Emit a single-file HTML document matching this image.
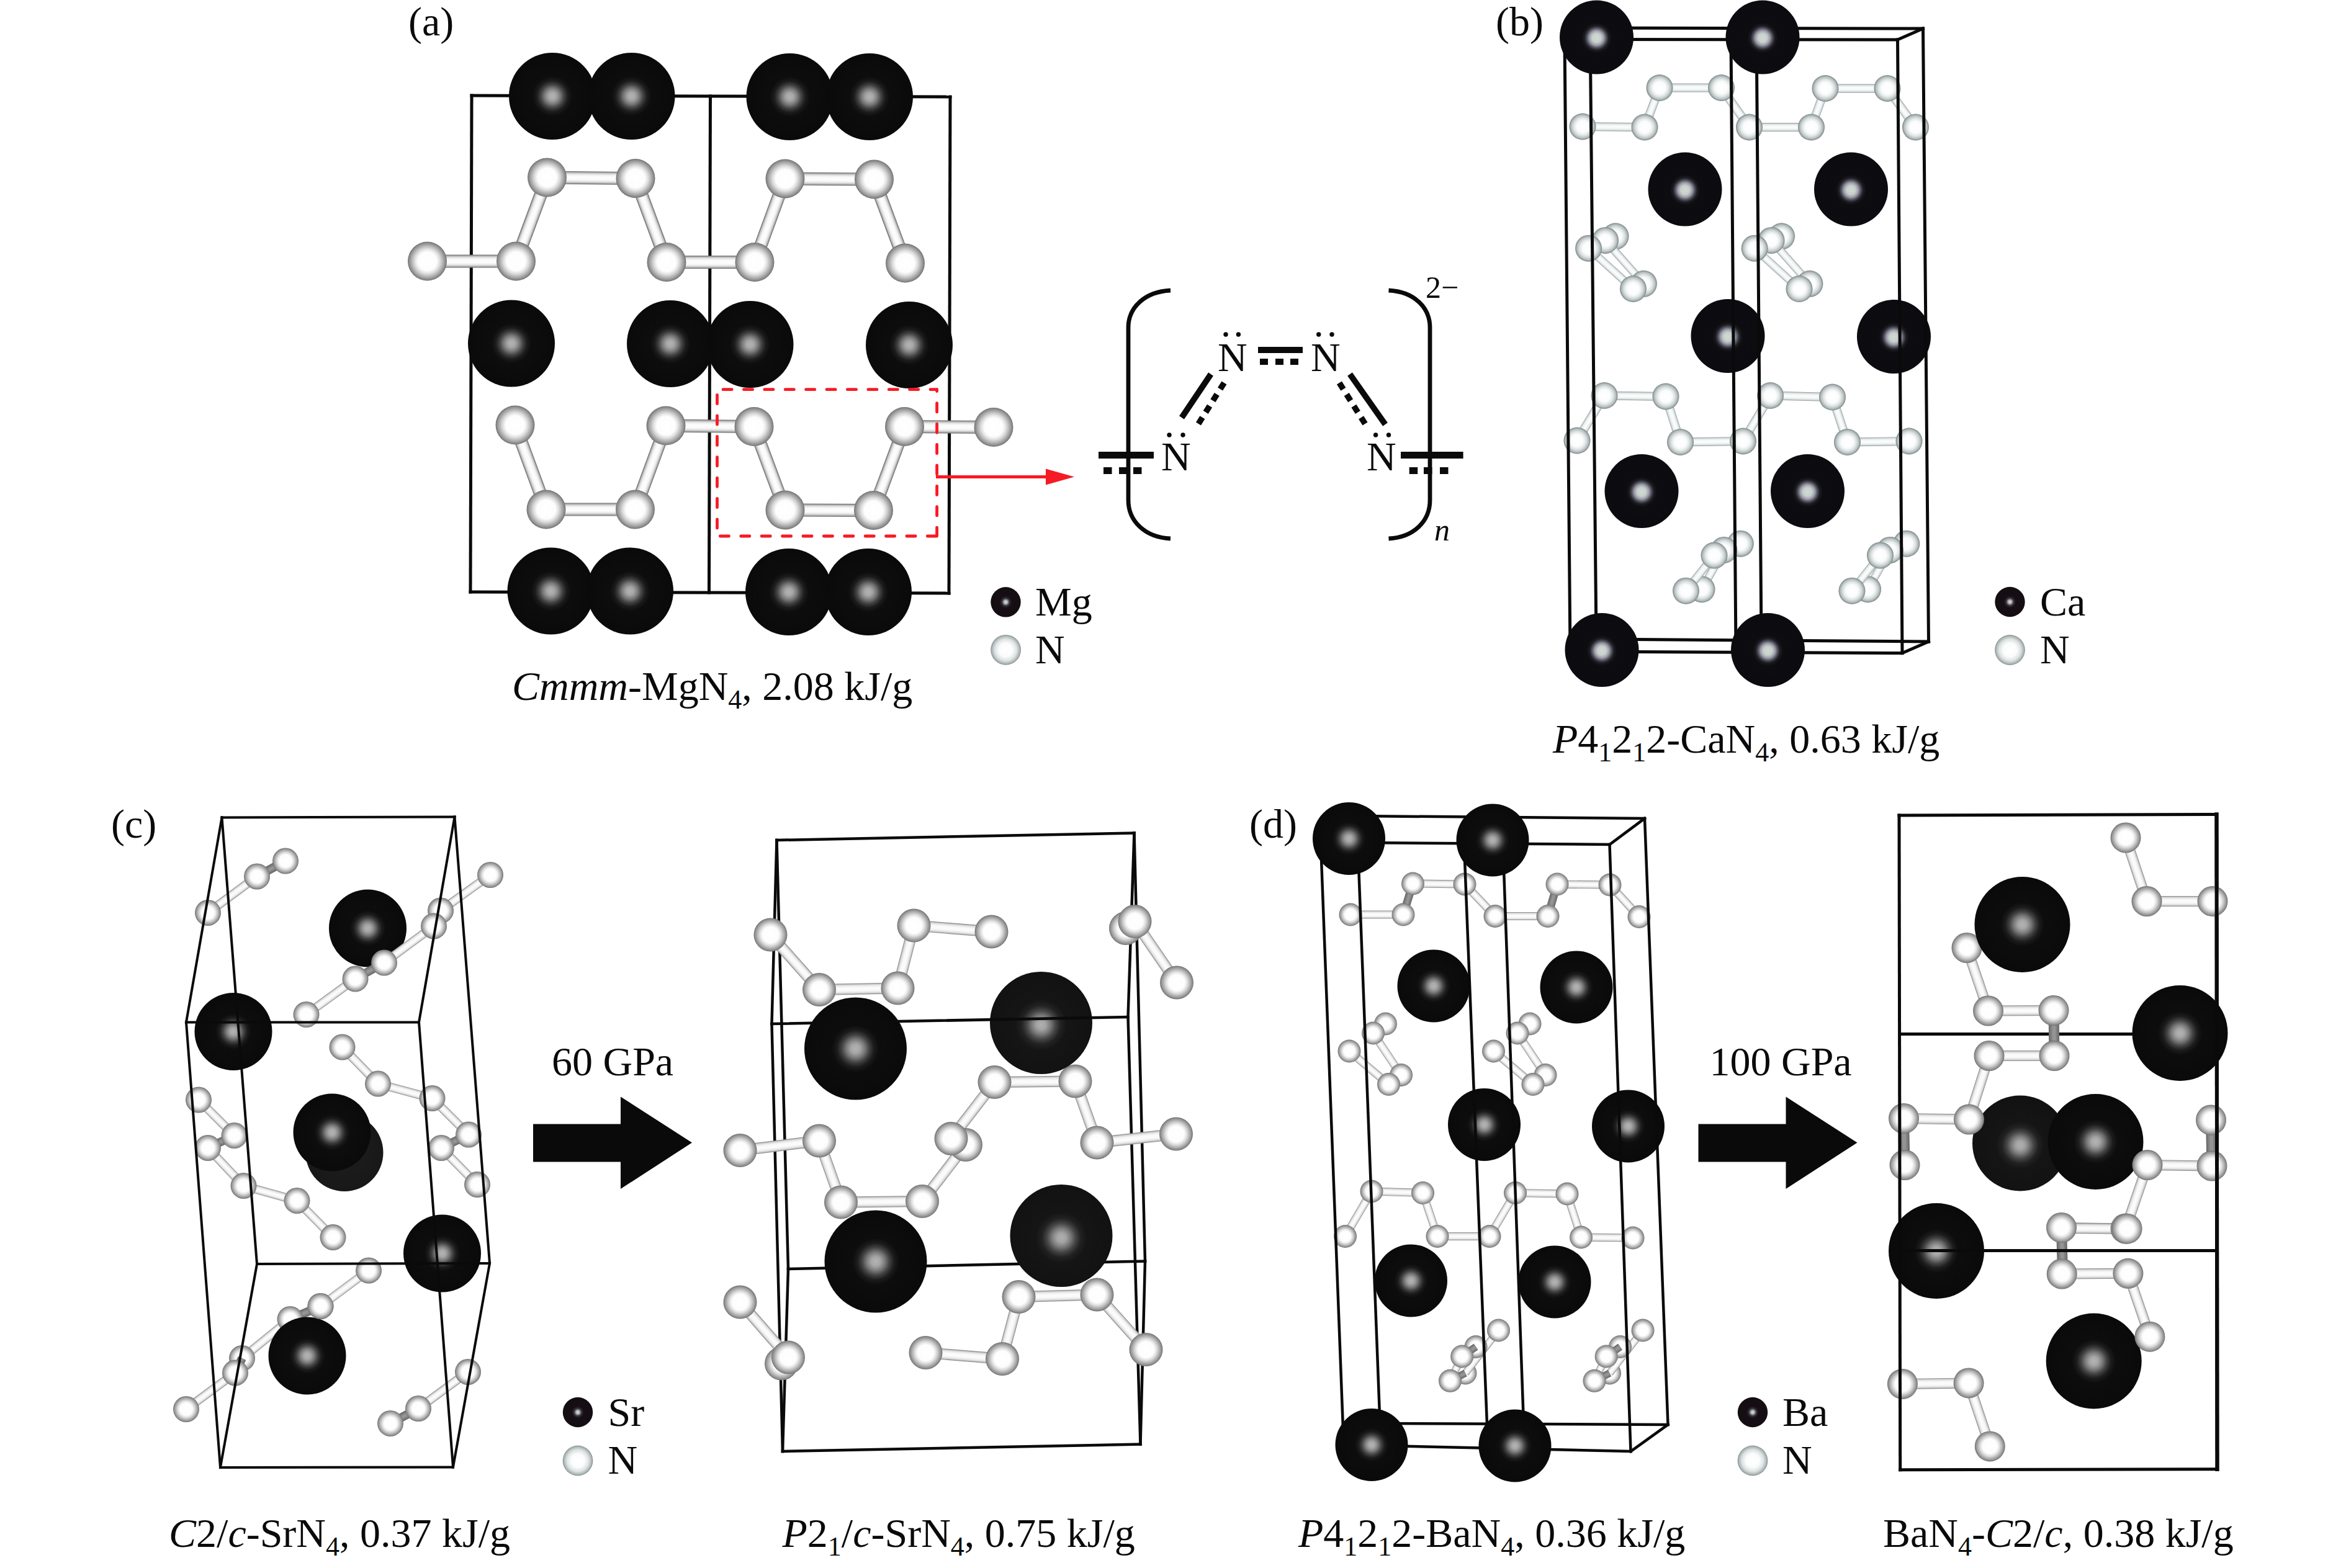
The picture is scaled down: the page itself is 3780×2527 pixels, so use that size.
<!DOCTYPE html>
<html><head><meta charset="utf-8"><style>
html,body{margin:0;padding:0;background:#fff;}
body{width:3780px;height:2527px;overflow:hidden;}
svg{display:block;}
text{font-family:"Liberation Serif", serif;fill:#0a0a0a;}
</style></head><body>
<svg width="3780" height="2527" viewBox="0 0 3780 2527">
<defs>
<radialGradient id="gM" cx="0.5" cy="0.5" r="0.5">
<stop offset="0" stop-color="#b4b4b4"/>
<stop offset="0.09" stop-color="#a6a6a6"/>
<stop offset="0.18" stop-color="#7a7a7a"/>
<stop offset="0.27" stop-color="#424242"/>
<stop offset="0.36" stop-color="#1c1c1c"/>
<stop offset="0.46" stop-color="#0d0d0d"/>
<stop offset="1" stop-color="#0a0a0a"/>
</radialGradient>
<radialGradient id="gMb" cx="0.5" cy="0.51" r="0.5">
<stop offset="0" stop-color="#d2dad6"/>
<stop offset="0.12" stop-color="#c8d0cc"/>
<stop offset="0.2" stop-color="#9a9aa8"/>
<stop offset="0.265" stop-color="#52525e"/>
<stop offset="0.33" stop-color="#1c1c22"/>
<stop offset="0.41" stop-color="#0d0d11"/>
<stop offset="1" stop-color="#0c0c10"/>
</radialGradient>
<radialGradient id="gMg" cx="0.5" cy="0.52" r="0.5">
<stop offset="0" stop-color="#b0b0b0"/>
<stop offset="0.09" stop-color="#a4a4a4"/>
<stop offset="0.18" stop-color="#7c7c7c"/>
<stop offset="0.28" stop-color="#464646"/>
<stop offset="0.38" stop-color="#222222"/>
<stop offset="0.5" stop-color="#151515"/>
<stop offset="1" stop-color="#121212"/>
</radialGradient>
<radialGradient id="gMd" cx="0.5" cy="0.5" r="0.5">
<stop offset="0" stop-color="#1e1e1e"/>
<stop offset="1" stop-color="#181818"/>
</radialGradient>
<radialGradient id="gL" cx="0.5" cy="0.5" r="0.5">
<stop offset="0" stop-color="#d0dada"/>
<stop offset="0.1" stop-color="#b8c2c4"/>
<stop offset="0.25" stop-color="#3a3038"/>
<stop offset="0.4" stop-color="#150e13"/>
<stop offset="1" stop-color="#140d12"/>
</radialGradient>
<radialGradient id="gN" cx="0.5" cy="0.5" r="0.5">
<stop offset="0" stop-color="#ffffff"/>
<stop offset="0.48" stop-color="#fdfdfd"/>
<stop offset="0.64" stop-color="#dedede"/>
<stop offset="0.8" stop-color="#b2b2b2"/>
<stop offset="0.93" stop-color="#8c8c8c"/>
<stop offset="1" stop-color="#707070"/>
</radialGradient>
<radialGradient id="gNb" cx="0.5" cy="0.5" r="0.5">
<stop offset="0" stop-color="#ffffff"/>
<stop offset="0.45" stop-color="#fbfcfc"/>
<stop offset="0.65" stop-color="#e2e6e6"/>
<stop offset="0.85" stop-color="#b8c0c0"/>
<stop offset="0.96" stop-color="#8e9898"/>
<stop offset="1" stop-color="#768080"/>
</radialGradient>
<radialGradient id="gNL" cx="0.5" cy="0.5" r="0.5">
<stop offset="0" stop-color="#ffffff"/>
<stop offset="0.45" stop-color="#fbfcfc"/>
<stop offset="0.72" stop-color="#dde2e2"/>
<stop offset="0.9" stop-color="#b0b8b8"/>
<stop offset="1" stop-color="#8a9494"/>
</radialGradient>
</defs>

<text x="658" y="57" font-size="66" text-anchor="start" >(a)</text>
<text x="2410" y="57" font-size="66" text-anchor="start" >(b)</text>
<text x="179" y="1349.5" font-size="66" text-anchor="start" >(c)</text>
<text x="2013" y="1349.5" font-size="66" text-anchor="start" >(d)</text>
<line x1="760" y1="154" x2="1531" y2="156" stroke="#0a0a0a" stroke-width="5" stroke-linecap="square"/>
<line x1="758" y1="954" x2="1529" y2="956" stroke="#0a0a0a" stroke-width="5" stroke-linecap="square"/>
<line x1="760" y1="154" x2="758" y2="954" stroke="#0a0a0a" stroke-width="5" stroke-linecap="square"/>
<line x1="1144.5" y1="155" x2="1142.5" y2="955" stroke="#0a0a0a" stroke-width="5" stroke-linecap="square"/>
<line x1="1531" y1="156" x2="1529" y2="956" stroke="#0a0a0a" stroke-width="5" stroke-linecap="square"/>
<line x1="688.5" y1="421" x2="831.5" y2="421" stroke="#707070" stroke-width="21.00"/>
<line x1="688.5" y1="421" x2="831.5" y2="421" stroke="#a0a0a0" stroke-width="18.90"/>
<line x1="688.5" y1="421" x2="831.5" y2="421" stroke="#bebebe" stroke-width="16.80"/>
<line x1="688.5" y1="421" x2="831.5" y2="421" stroke="#d5d5d5" stroke-width="14.70"/>
<line x1="688.5" y1="421" x2="831.5" y2="421" stroke="#e4e4e4" stroke-width="12.60"/>
<line x1="688.5" y1="421" x2="831.5" y2="421" stroke="#efefef" stroke-width="10.50"/>
<line x1="688.5" y1="421" x2="831.5" y2="421" stroke="#f4f4f4" stroke-width="8.40"/>
<line x1="688.5" y1="421" x2="831.5" y2="421" stroke="#fafafa" stroke-width="6.30"/>
<line x1="688.5" y1="421" x2="831.5" y2="421" stroke="#fcfcfc" stroke-width="4.20"/>
<line x1="831.5" y1="421" x2="881.5" y2="286" stroke="#707070" stroke-width="21.00"/>
<line x1="831.5" y1="421" x2="881.5" y2="286" stroke="#a0a0a0" stroke-width="18.90"/>
<line x1="831.5" y1="421" x2="881.5" y2="286" stroke="#bebebe" stroke-width="16.80"/>
<line x1="831.5" y1="421" x2="881.5" y2="286" stroke="#d5d5d5" stroke-width="14.70"/>
<line x1="831.5" y1="421" x2="881.5" y2="286" stroke="#e4e4e4" stroke-width="12.60"/>
<line x1="831.5" y1="421" x2="881.5" y2="286" stroke="#efefef" stroke-width="10.50"/>
<line x1="831.5" y1="421" x2="881.5" y2="286" stroke="#f4f4f4" stroke-width="8.40"/>
<line x1="831.5" y1="421" x2="881.5" y2="286" stroke="#fafafa" stroke-width="6.30"/>
<line x1="831.5" y1="421" x2="881.5" y2="286" stroke="#fcfcfc" stroke-width="4.20"/>
<line x1="881.5" y1="286" x2="1024" y2="287.5" stroke="#707070" stroke-width="21.00"/>
<line x1="881.5" y1="286" x2="1024" y2="287.5" stroke="#a0a0a0" stroke-width="18.90"/>
<line x1="881.5" y1="286" x2="1024" y2="287.5" stroke="#bebebe" stroke-width="16.80"/>
<line x1="881.5" y1="286" x2="1024" y2="287.5" stroke="#d5d5d5" stroke-width="14.70"/>
<line x1="881.5" y1="286" x2="1024" y2="287.5" stroke="#e4e4e4" stroke-width="12.60"/>
<line x1="881.5" y1="286" x2="1024" y2="287.5" stroke="#efefef" stroke-width="10.50"/>
<line x1="881.5" y1="286" x2="1024" y2="287.5" stroke="#f4f4f4" stroke-width="8.40"/>
<line x1="881.5" y1="286" x2="1024" y2="287.5" stroke="#fafafa" stroke-width="6.30"/>
<line x1="881.5" y1="286" x2="1024" y2="287.5" stroke="#fcfcfc" stroke-width="4.20"/>
<line x1="1024" y1="287.5" x2="1074" y2="422.5" stroke="#707070" stroke-width="21.00"/>
<line x1="1024" y1="287.5" x2="1074" y2="422.5" stroke="#a0a0a0" stroke-width="18.90"/>
<line x1="1024" y1="287.5" x2="1074" y2="422.5" stroke="#bebebe" stroke-width="16.80"/>
<line x1="1024" y1="287.5" x2="1074" y2="422.5" stroke="#d5d5d5" stroke-width="14.70"/>
<line x1="1024" y1="287.5" x2="1074" y2="422.5" stroke="#e4e4e4" stroke-width="12.60"/>
<line x1="1024" y1="287.5" x2="1074" y2="422.5" stroke="#efefef" stroke-width="10.50"/>
<line x1="1024" y1="287.5" x2="1074" y2="422.5" stroke="#f4f4f4" stroke-width="8.40"/>
<line x1="1024" y1="287.5" x2="1074" y2="422.5" stroke="#fafafa" stroke-width="6.30"/>
<line x1="1024" y1="287.5" x2="1074" y2="422.5" stroke="#fcfcfc" stroke-width="4.20"/>
<line x1="1074" y1="422.5" x2="1216" y2="422.5" stroke="#707070" stroke-width="21.00"/>
<line x1="1074" y1="422.5" x2="1216" y2="422.5" stroke="#a0a0a0" stroke-width="18.90"/>
<line x1="1074" y1="422.5" x2="1216" y2="422.5" stroke="#bebebe" stroke-width="16.80"/>
<line x1="1074" y1="422.5" x2="1216" y2="422.5" stroke="#d5d5d5" stroke-width="14.70"/>
<line x1="1074" y1="422.5" x2="1216" y2="422.5" stroke="#e4e4e4" stroke-width="12.60"/>
<line x1="1074" y1="422.5" x2="1216" y2="422.5" stroke="#efefef" stroke-width="10.50"/>
<line x1="1074" y1="422.5" x2="1216" y2="422.5" stroke="#f4f4f4" stroke-width="8.40"/>
<line x1="1074" y1="422.5" x2="1216" y2="422.5" stroke="#fafafa" stroke-width="6.30"/>
<line x1="1074" y1="422.5" x2="1216" y2="422.5" stroke="#fcfcfc" stroke-width="4.20"/>
<line x1="1216" y1="422.5" x2="1265" y2="288" stroke="#707070" stroke-width="21.00"/>
<line x1="1216" y1="422.5" x2="1265" y2="288" stroke="#a0a0a0" stroke-width="18.90"/>
<line x1="1216" y1="422.5" x2="1265" y2="288" stroke="#bebebe" stroke-width="16.80"/>
<line x1="1216" y1="422.5" x2="1265" y2="288" stroke="#d5d5d5" stroke-width="14.70"/>
<line x1="1216" y1="422.5" x2="1265" y2="288" stroke="#e4e4e4" stroke-width="12.60"/>
<line x1="1216" y1="422.5" x2="1265" y2="288" stroke="#efefef" stroke-width="10.50"/>
<line x1="1216" y1="422.5" x2="1265" y2="288" stroke="#f4f4f4" stroke-width="8.40"/>
<line x1="1216" y1="422.5" x2="1265" y2="288" stroke="#fafafa" stroke-width="6.30"/>
<line x1="1216" y1="422.5" x2="1265" y2="288" stroke="#fcfcfc" stroke-width="4.20"/>
<line x1="1265" y1="288" x2="1408.5" y2="289" stroke="#707070" stroke-width="21.00"/>
<line x1="1265" y1="288" x2="1408.5" y2="289" stroke="#a0a0a0" stroke-width="18.90"/>
<line x1="1265" y1="288" x2="1408.5" y2="289" stroke="#bebebe" stroke-width="16.80"/>
<line x1="1265" y1="288" x2="1408.5" y2="289" stroke="#d5d5d5" stroke-width="14.70"/>
<line x1="1265" y1="288" x2="1408.5" y2="289" stroke="#e4e4e4" stroke-width="12.60"/>
<line x1="1265" y1="288" x2="1408.5" y2="289" stroke="#efefef" stroke-width="10.50"/>
<line x1="1265" y1="288" x2="1408.5" y2="289" stroke="#f4f4f4" stroke-width="8.40"/>
<line x1="1265" y1="288" x2="1408.5" y2="289" stroke="#fafafa" stroke-width="6.30"/>
<line x1="1265" y1="288" x2="1408.5" y2="289" stroke="#fcfcfc" stroke-width="4.20"/>
<line x1="1408.5" y1="289" x2="1458.5" y2="424" stroke="#707070" stroke-width="21.00"/>
<line x1="1408.5" y1="289" x2="1458.5" y2="424" stroke="#a0a0a0" stroke-width="18.90"/>
<line x1="1408.5" y1="289" x2="1458.5" y2="424" stroke="#bebebe" stroke-width="16.80"/>
<line x1="1408.5" y1="289" x2="1458.5" y2="424" stroke="#d5d5d5" stroke-width="14.70"/>
<line x1="1408.5" y1="289" x2="1458.5" y2="424" stroke="#e4e4e4" stroke-width="12.60"/>
<line x1="1408.5" y1="289" x2="1458.5" y2="424" stroke="#efefef" stroke-width="10.50"/>
<line x1="1408.5" y1="289" x2="1458.5" y2="424" stroke="#f4f4f4" stroke-width="8.40"/>
<line x1="1408.5" y1="289" x2="1458.5" y2="424" stroke="#fafafa" stroke-width="6.30"/>
<line x1="1408.5" y1="289" x2="1458.5" y2="424" stroke="#fcfcfc" stroke-width="4.20"/>
<line x1="830" y1="685" x2="880" y2="821" stroke="#707070" stroke-width="21.00"/>
<line x1="830" y1="685" x2="880" y2="821" stroke="#a0a0a0" stroke-width="18.90"/>
<line x1="830" y1="685" x2="880" y2="821" stroke="#bebebe" stroke-width="16.80"/>
<line x1="830" y1="685" x2="880" y2="821" stroke="#d5d5d5" stroke-width="14.70"/>
<line x1="830" y1="685" x2="880" y2="821" stroke="#e4e4e4" stroke-width="12.60"/>
<line x1="830" y1="685" x2="880" y2="821" stroke="#efefef" stroke-width="10.50"/>
<line x1="830" y1="685" x2="880" y2="821" stroke="#f4f4f4" stroke-width="8.40"/>
<line x1="830" y1="685" x2="880" y2="821" stroke="#fafafa" stroke-width="6.30"/>
<line x1="830" y1="685" x2="880" y2="821" stroke="#fcfcfc" stroke-width="4.20"/>
<line x1="880" y1="821" x2="1023.5" y2="821" stroke="#707070" stroke-width="21.00"/>
<line x1="880" y1="821" x2="1023.5" y2="821" stroke="#a0a0a0" stroke-width="18.90"/>
<line x1="880" y1="821" x2="1023.5" y2="821" stroke="#bebebe" stroke-width="16.80"/>
<line x1="880" y1="821" x2="1023.5" y2="821" stroke="#d5d5d5" stroke-width="14.70"/>
<line x1="880" y1="821" x2="1023.5" y2="821" stroke="#e4e4e4" stroke-width="12.60"/>
<line x1="880" y1="821" x2="1023.5" y2="821" stroke="#efefef" stroke-width="10.50"/>
<line x1="880" y1="821" x2="1023.5" y2="821" stroke="#f4f4f4" stroke-width="8.40"/>
<line x1="880" y1="821" x2="1023.5" y2="821" stroke="#fafafa" stroke-width="6.30"/>
<line x1="880" y1="821" x2="1023.5" y2="821" stroke="#fcfcfc" stroke-width="4.20"/>
<line x1="1023.5" y1="821" x2="1073" y2="686" stroke="#707070" stroke-width="21.00"/>
<line x1="1023.5" y1="821" x2="1073" y2="686" stroke="#a0a0a0" stroke-width="18.90"/>
<line x1="1023.5" y1="821" x2="1073" y2="686" stroke="#bebebe" stroke-width="16.80"/>
<line x1="1023.5" y1="821" x2="1073" y2="686" stroke="#d5d5d5" stroke-width="14.70"/>
<line x1="1023.5" y1="821" x2="1073" y2="686" stroke="#e4e4e4" stroke-width="12.60"/>
<line x1="1023.5" y1="821" x2="1073" y2="686" stroke="#efefef" stroke-width="10.50"/>
<line x1="1023.5" y1="821" x2="1073" y2="686" stroke="#f4f4f4" stroke-width="8.40"/>
<line x1="1023.5" y1="821" x2="1073" y2="686" stroke="#fafafa" stroke-width="6.30"/>
<line x1="1023.5" y1="821" x2="1073" y2="686" stroke="#fcfcfc" stroke-width="4.20"/>
<line x1="1073" y1="686" x2="1215" y2="687.5" stroke="#707070" stroke-width="21.00"/>
<line x1="1073" y1="686" x2="1215" y2="687.5" stroke="#a0a0a0" stroke-width="18.90"/>
<line x1="1073" y1="686" x2="1215" y2="687.5" stroke="#bebebe" stroke-width="16.80"/>
<line x1="1073" y1="686" x2="1215" y2="687.5" stroke="#d5d5d5" stroke-width="14.70"/>
<line x1="1073" y1="686" x2="1215" y2="687.5" stroke="#e4e4e4" stroke-width="12.60"/>
<line x1="1073" y1="686" x2="1215" y2="687.5" stroke="#efefef" stroke-width="10.50"/>
<line x1="1073" y1="686" x2="1215" y2="687.5" stroke="#f4f4f4" stroke-width="8.40"/>
<line x1="1073" y1="686" x2="1215" y2="687.5" stroke="#fafafa" stroke-width="6.30"/>
<line x1="1073" y1="686" x2="1215" y2="687.5" stroke="#fcfcfc" stroke-width="4.20"/>
<line x1="1215" y1="687.5" x2="1265" y2="822" stroke="#707070" stroke-width="21.00"/>
<line x1="1215" y1="687.5" x2="1265" y2="822" stroke="#a0a0a0" stroke-width="18.90"/>
<line x1="1215" y1="687.5" x2="1265" y2="822" stroke="#bebebe" stroke-width="16.80"/>
<line x1="1215" y1="687.5" x2="1265" y2="822" stroke="#d5d5d5" stroke-width="14.70"/>
<line x1="1215" y1="687.5" x2="1265" y2="822" stroke="#e4e4e4" stroke-width="12.60"/>
<line x1="1215" y1="687.5" x2="1265" y2="822" stroke="#efefef" stroke-width="10.50"/>
<line x1="1215" y1="687.5" x2="1265" y2="822" stroke="#f4f4f4" stroke-width="8.40"/>
<line x1="1215" y1="687.5" x2="1265" y2="822" stroke="#fafafa" stroke-width="6.30"/>
<line x1="1215" y1="687.5" x2="1265" y2="822" stroke="#fcfcfc" stroke-width="4.20"/>
<line x1="1265" y1="822" x2="1407.5" y2="822.5" stroke="#707070" stroke-width="21.00"/>
<line x1="1265" y1="822" x2="1407.5" y2="822.5" stroke="#a0a0a0" stroke-width="18.90"/>
<line x1="1265" y1="822" x2="1407.5" y2="822.5" stroke="#bebebe" stroke-width="16.80"/>
<line x1="1265" y1="822" x2="1407.5" y2="822.5" stroke="#d5d5d5" stroke-width="14.70"/>
<line x1="1265" y1="822" x2="1407.5" y2="822.5" stroke="#e4e4e4" stroke-width="12.60"/>
<line x1="1265" y1="822" x2="1407.5" y2="822.5" stroke="#efefef" stroke-width="10.50"/>
<line x1="1265" y1="822" x2="1407.5" y2="822.5" stroke="#f4f4f4" stroke-width="8.40"/>
<line x1="1265" y1="822" x2="1407.5" y2="822.5" stroke="#fafafa" stroke-width="6.30"/>
<line x1="1265" y1="822" x2="1407.5" y2="822.5" stroke="#fcfcfc" stroke-width="4.20"/>
<line x1="1407.5" y1="822.5" x2="1457.5" y2="687.5" stroke="#707070" stroke-width="21.00"/>
<line x1="1407.5" y1="822.5" x2="1457.5" y2="687.5" stroke="#a0a0a0" stroke-width="18.90"/>
<line x1="1407.5" y1="822.5" x2="1457.5" y2="687.5" stroke="#bebebe" stroke-width="16.80"/>
<line x1="1407.5" y1="822.5" x2="1457.5" y2="687.5" stroke="#d5d5d5" stroke-width="14.70"/>
<line x1="1407.5" y1="822.5" x2="1457.5" y2="687.5" stroke="#e4e4e4" stroke-width="12.60"/>
<line x1="1407.5" y1="822.5" x2="1457.5" y2="687.5" stroke="#efefef" stroke-width="10.50"/>
<line x1="1407.5" y1="822.5" x2="1457.5" y2="687.5" stroke="#f4f4f4" stroke-width="8.40"/>
<line x1="1407.5" y1="822.5" x2="1457.5" y2="687.5" stroke="#fafafa" stroke-width="6.30"/>
<line x1="1407.5" y1="822.5" x2="1457.5" y2="687.5" stroke="#fcfcfc" stroke-width="4.20"/>
<line x1="1457.5" y1="687.5" x2="1601" y2="688.5" stroke="#707070" stroke-width="21.00"/>
<line x1="1457.5" y1="687.5" x2="1601" y2="688.5" stroke="#a0a0a0" stroke-width="18.90"/>
<line x1="1457.5" y1="687.5" x2="1601" y2="688.5" stroke="#bebebe" stroke-width="16.80"/>
<line x1="1457.5" y1="687.5" x2="1601" y2="688.5" stroke="#d5d5d5" stroke-width="14.70"/>
<line x1="1457.5" y1="687.5" x2="1601" y2="688.5" stroke="#e4e4e4" stroke-width="12.60"/>
<line x1="1457.5" y1="687.5" x2="1601" y2="688.5" stroke="#efefef" stroke-width="10.50"/>
<line x1="1457.5" y1="687.5" x2="1601" y2="688.5" stroke="#f4f4f4" stroke-width="8.40"/>
<line x1="1457.5" y1="687.5" x2="1601" y2="688.5" stroke="#fafafa" stroke-width="6.30"/>
<line x1="1457.5" y1="687.5" x2="1601" y2="688.5" stroke="#fcfcfc" stroke-width="4.20"/>
<circle cx="881.5" cy="286" r="31.5" fill="url(#gN)"/>
<circle cx="1024" cy="287.5" r="31.5" fill="url(#gN)"/>
<circle cx="1265" cy="288" r="31.5" fill="url(#gN)"/>
<circle cx="1408.5" cy="289" r="31.5" fill="url(#gN)"/>
<circle cx="688.5" cy="421" r="31.5" fill="url(#gN)"/>
<circle cx="831.5" cy="421" r="31.5" fill="url(#gN)"/>
<circle cx="1074" cy="422.5" r="31.5" fill="url(#gN)"/>
<circle cx="1216" cy="422.5" r="31.5" fill="url(#gN)"/>
<circle cx="1458.5" cy="424" r="31.5" fill="url(#gN)"/>
<circle cx="830" cy="685" r="31.5" fill="url(#gN)"/>
<circle cx="1073" cy="686" r="31.5" fill="url(#gN)"/>
<circle cx="1215" cy="687.5" r="31.5" fill="url(#gN)"/>
<circle cx="1457.5" cy="687.5" r="31.5" fill="url(#gN)"/>
<circle cx="1601" cy="688.5" r="31.5" fill="url(#gN)"/>
<circle cx="880" cy="821" r="31.5" fill="url(#gN)"/>
<circle cx="1023.5" cy="821" r="31.5" fill="url(#gN)"/>
<circle cx="1265" cy="822" r="31.5" fill="url(#gN)"/>
<circle cx="1407.5" cy="822.5" r="31.5" fill="url(#gN)"/>
<circle cx="890" cy="155" r="70" fill="url(#gM)"/>
<circle cx="1017.5" cy="155" r="70" fill="url(#gM)"/>
<circle cx="1272.5" cy="156" r="70" fill="url(#gM)"/>
<circle cx="1401" cy="156" r="70" fill="url(#gM)"/>
<circle cx="824" cy="553.5" r="70" fill="url(#gM)"/>
<circle cx="1080" cy="554" r="70" fill="url(#gM)"/>
<circle cx="1208.5" cy="555" r="70" fill="url(#gM)"/>
<circle cx="1465" cy="556" r="70" fill="url(#gM)"/>
<circle cx="887.5" cy="952.5" r="70" fill="url(#gM)"/>
<circle cx="1015" cy="952.5" r="70" fill="url(#gM)"/>
<circle cx="1271" cy="954" r="70" fill="url(#gM)"/>
<circle cx="1399" cy="954" r="70" fill="url(#gM)"/>
<path d="M1155.5,627.7 H1509.6" stroke="#f81a24" stroke-width="4.8" stroke-dasharray="14.2 19.2" stroke-linecap="round" fill="none" stroke-dashoffset="-9.5"/>
<path d="M1509.6,627.7 V864" stroke="#f81a24" stroke-width="4.8" stroke-dasharray="14.2 19.2" stroke-linecap="round" fill="none" stroke-dashoffset="11.4"/>
<path d="M1509.6,864 H1155.5" stroke="#f81a24" stroke-width="4.8" stroke-dasharray="14.2 19.2" stroke-linecap="round" fill="none" stroke-dashoffset="-1.1"/>
<path d="M1155.5,627.7 V864" stroke="#f81a24" stroke-width="4.8" stroke-dasharray="14.2 19.2" stroke-linecap="round" fill="none" stroke-dashoffset="-8.8"/>
<line x1="1508" y1="768.5" x2="1692" y2="768.5" stroke="#f81a24" stroke-width="4.8"/>
<path d="M1685,755.5 L1731,768.5 L1685,781.5 Z" fill="#f51a24"/>
<circle cx="1620.5" cy="970.3" r="24.2" fill="url(#gL)"/>
<circle cx="1620.6" cy="1047.3" r="24.4" fill="url(#gNL)"/>
<text x="1668" y="991.7" font-size="66" text-anchor="start" >Mg</text>
<text x="1668" y="1069.3" font-size="66" text-anchor="start" >N</text>
<text x="825" y="1127.5" font-size="66" text-anchor="start" ><tspan font-style="italic">Cmmm</tspan>-MgN<tspan font-size="44" dy="14">4</tspan><tspan dy="-14">, 2.08 kJ/g</tspan></text>
<path d="M1886,468 C1845,470 1818,495 1818,528 L1818,806 C1818,840 1845,866 1886,868" fill="none" stroke="#0a0a0a" stroke-width="6.8"/>
<path d="M2237.5,468 C2278,470 2304,495 2304,528 L2304,806 C2304,840 2278,866 2237.5,868" fill="none" stroke="#0a0a0a" stroke-width="6.8"/>
<text x="1962" y="598" font-size="66" text-anchor="start" >N</text>
<text x="2112" y="598" font-size="66" text-anchor="start" >N</text>
<text x="1871" y="758" font-size="66" text-anchor="start" >N</text>
<text x="2202" y="758" font-size="66" text-anchor="start" >N</text>
<circle cx="1975" cy="539" r="3.7" fill="#0a0a0a"/>
<circle cx="1995.4" cy="539" r="3.7" fill="#0a0a0a"/>
<circle cx="2124.7" cy="539" r="3.7" fill="#0a0a0a"/>
<circle cx="2146" cy="539" r="3.7" fill="#0a0a0a"/>
<circle cx="1884" cy="701" r="3.7" fill="#0a0a0a"/>
<circle cx="1906" cy="701" r="3.7" fill="#0a0a0a"/>
<circle cx="2216.6" cy="701" r="3.7" fill="#0a0a0a"/>
<circle cx="2237.5" cy="701" r="3.7" fill="#0a0a0a"/>
<rect x="2027" y="559" width="72" height="10" fill="#0a0a0a"/>
<rect x="2030" y="578" width="13" height="10" fill="#0a0a0a"/>
<rect x="2055" y="578" width="13" height="10" fill="#0a0a0a"/>
<rect x="2079" y="578" width="13" height="10" fill="#0a0a0a"/>
<rect x="1770" y="728" width="89" height="11" fill="#0a0a0a"/>
<rect x="1778" y="753" width="13.5" height="11" fill="#0a0a0a"/>
<rect x="1803" y="753" width="13.5" height="11" fill="#0a0a0a"/>
<rect x="1826" y="753" width="13.5" height="11" fill="#0a0a0a"/>
<rect x="2257" y="728" width="100.6" height="11" fill="#0a0a0a"/>
<rect x="2270.7" y="753" width="13.5" height="11" fill="#0a0a0a"/>
<rect x="2294" y="753" width="13.5" height="11" fill="#0a0a0a"/>
<rect x="2320" y="753" width="13.5" height="11" fill="#0a0a0a"/>
<line x1="1904" y1="673" x2="1951" y2="603" stroke="#0a0a0a" stroke-width="9.5"/>
<line x1="1931" y1="683" x2="1973" y2="616" stroke="#0a0a0a" stroke-width="9.5" stroke-dasharray="12 10"/>
<line x1="2175" y1="603" x2="2232" y2="684" stroke="#0a0a0a" stroke-width="9.5"/>
<line x1="2158" y1="617" x2="2202" y2="687" stroke="#0a0a0a" stroke-width="9.5" stroke-dasharray="12 10"/>
<text x="2297" y="479.5" font-size="50" text-anchor="start" >2&#8722;</text>
<text x="2311" y="871" font-size="50" text-anchor="start" ><tspan font-style="italic">n</tspan></text>
<line x1="2550" y1="204" x2="2650" y2="205" stroke="#96a0a0" stroke-width="14.00"/>
<line x1="2550" y1="204" x2="2650" y2="205" stroke="#bdc4c4" stroke-width="12.60"/>
<line x1="2550" y1="204" x2="2650" y2="205" stroke="#d4dada" stroke-width="11.20"/>
<line x1="2550" y1="204" x2="2650" y2="205" stroke="#dee3e3" stroke-width="9.80"/>
<line x1="2550" y1="204" x2="2650" y2="205" stroke="#e8ecec" stroke-width="8.40"/>
<line x1="2550" y1="204" x2="2650" y2="205" stroke="#eef1f1" stroke-width="7.00"/>
<line x1="2550" y1="204" x2="2650" y2="205" stroke="#f3f6f6" stroke-width="5.60"/>
<line x1="2550" y1="204" x2="2650" y2="205" stroke="#f7f9f9" stroke-width="4.20"/>
<line x1="2550" y1="204" x2="2650" y2="205" stroke="#fafbfb" stroke-width="2.80"/>
<line x1="2650" y1="205" x2="2674" y2="141.5" stroke="#96a0a0" stroke-width="14.00"/>
<line x1="2650" y1="205" x2="2674" y2="141.5" stroke="#bdc4c4" stroke-width="12.60"/>
<line x1="2650" y1="205" x2="2674" y2="141.5" stroke="#d4dada" stroke-width="11.20"/>
<line x1="2650" y1="205" x2="2674" y2="141.5" stroke="#dee3e3" stroke-width="9.80"/>
<line x1="2650" y1="205" x2="2674" y2="141.5" stroke="#e8ecec" stroke-width="8.40"/>
<line x1="2650" y1="205" x2="2674" y2="141.5" stroke="#eef1f1" stroke-width="7.00"/>
<line x1="2650" y1="205" x2="2674" y2="141.5" stroke="#f3f6f6" stroke-width="5.60"/>
<line x1="2650" y1="205" x2="2674" y2="141.5" stroke="#f7f9f9" stroke-width="4.20"/>
<line x1="2650" y1="205" x2="2674" y2="141.5" stroke="#fafbfb" stroke-width="2.80"/>
<line x1="2674" y1="141.5" x2="2773.5" y2="141.5" stroke="#96a0a0" stroke-width="14.00"/>
<line x1="2674" y1="141.5" x2="2773.5" y2="141.5" stroke="#bdc4c4" stroke-width="12.60"/>
<line x1="2674" y1="141.5" x2="2773.5" y2="141.5" stroke="#d4dada" stroke-width="11.20"/>
<line x1="2674" y1="141.5" x2="2773.5" y2="141.5" stroke="#dee3e3" stroke-width="9.80"/>
<line x1="2674" y1="141.5" x2="2773.5" y2="141.5" stroke="#e8ecec" stroke-width="8.40"/>
<line x1="2674" y1="141.5" x2="2773.5" y2="141.5" stroke="#eef1f1" stroke-width="7.00"/>
<line x1="2674" y1="141.5" x2="2773.5" y2="141.5" stroke="#f3f6f6" stroke-width="5.60"/>
<line x1="2674" y1="141.5" x2="2773.5" y2="141.5" stroke="#f7f9f9" stroke-width="4.20"/>
<line x1="2674" y1="141.5" x2="2773.5" y2="141.5" stroke="#fafbfb" stroke-width="2.80"/>
<line x1="2773.5" y1="141.5" x2="2818.5" y2="205" stroke="#96a0a0" stroke-width="14.00"/>
<line x1="2773.5" y1="141.5" x2="2818.5" y2="205" stroke="#bdc4c4" stroke-width="12.60"/>
<line x1="2773.5" y1="141.5" x2="2818.5" y2="205" stroke="#d4dada" stroke-width="11.20"/>
<line x1="2773.5" y1="141.5" x2="2818.5" y2="205" stroke="#dee3e3" stroke-width="9.80"/>
<line x1="2773.5" y1="141.5" x2="2818.5" y2="205" stroke="#e8ecec" stroke-width="8.40"/>
<line x1="2773.5" y1="141.5" x2="2818.5" y2="205" stroke="#eef1f1" stroke-width="7.00"/>
<line x1="2773.5" y1="141.5" x2="2818.5" y2="205" stroke="#f3f6f6" stroke-width="5.60"/>
<line x1="2773.5" y1="141.5" x2="2818.5" y2="205" stroke="#f7f9f9" stroke-width="4.20"/>
<line x1="2773.5" y1="141.5" x2="2818.5" y2="205" stroke="#fafbfb" stroke-width="2.80"/>
<line x1="2818.5" y1="205" x2="2918.5" y2="205" stroke="#96a0a0" stroke-width="14.00"/>
<line x1="2818.5" y1="205" x2="2918.5" y2="205" stroke="#bdc4c4" stroke-width="12.60"/>
<line x1="2818.5" y1="205" x2="2918.5" y2="205" stroke="#d4dada" stroke-width="11.20"/>
<line x1="2818.5" y1="205" x2="2918.5" y2="205" stroke="#dee3e3" stroke-width="9.80"/>
<line x1="2818.5" y1="205" x2="2918.5" y2="205" stroke="#e8ecec" stroke-width="8.40"/>
<line x1="2818.5" y1="205" x2="2918.5" y2="205" stroke="#eef1f1" stroke-width="7.00"/>
<line x1="2818.5" y1="205" x2="2918.5" y2="205" stroke="#f3f6f6" stroke-width="5.60"/>
<line x1="2818.5" y1="205" x2="2918.5" y2="205" stroke="#f7f9f9" stroke-width="4.20"/>
<line x1="2818.5" y1="205" x2="2918.5" y2="205" stroke="#fafbfb" stroke-width="2.80"/>
<line x1="2918.5" y1="205" x2="2941" y2="142.5" stroke="#96a0a0" stroke-width="14.00"/>
<line x1="2918.5" y1="205" x2="2941" y2="142.5" stroke="#bdc4c4" stroke-width="12.60"/>
<line x1="2918.5" y1="205" x2="2941" y2="142.5" stroke="#d4dada" stroke-width="11.20"/>
<line x1="2918.5" y1="205" x2="2941" y2="142.5" stroke="#dee3e3" stroke-width="9.80"/>
<line x1="2918.5" y1="205" x2="2941" y2="142.5" stroke="#e8ecec" stroke-width="8.40"/>
<line x1="2918.5" y1="205" x2="2941" y2="142.5" stroke="#eef1f1" stroke-width="7.00"/>
<line x1="2918.5" y1="205" x2="2941" y2="142.5" stroke="#f3f6f6" stroke-width="5.60"/>
<line x1="2918.5" y1="205" x2="2941" y2="142.5" stroke="#f7f9f9" stroke-width="4.20"/>
<line x1="2918.5" y1="205" x2="2941" y2="142.5" stroke="#fafbfb" stroke-width="2.80"/>
<line x1="2941" y1="142.5" x2="3041" y2="142.5" stroke="#96a0a0" stroke-width="14.00"/>
<line x1="2941" y1="142.5" x2="3041" y2="142.5" stroke="#bdc4c4" stroke-width="12.60"/>
<line x1="2941" y1="142.5" x2="3041" y2="142.5" stroke="#d4dada" stroke-width="11.20"/>
<line x1="2941" y1="142.5" x2="3041" y2="142.5" stroke="#dee3e3" stroke-width="9.80"/>
<line x1="2941" y1="142.5" x2="3041" y2="142.5" stroke="#e8ecec" stroke-width="8.40"/>
<line x1="2941" y1="142.5" x2="3041" y2="142.5" stroke="#eef1f1" stroke-width="7.00"/>
<line x1="2941" y1="142.5" x2="3041" y2="142.5" stroke="#f3f6f6" stroke-width="5.60"/>
<line x1="2941" y1="142.5" x2="3041" y2="142.5" stroke="#f7f9f9" stroke-width="4.20"/>
<line x1="2941" y1="142.5" x2="3041" y2="142.5" stroke="#fafbfb" stroke-width="2.80"/>
<line x1="3041" y1="142.5" x2="3086.5" y2="205" stroke="#96a0a0" stroke-width="14.00"/>
<line x1="3041" y1="142.5" x2="3086.5" y2="205" stroke="#bdc4c4" stroke-width="12.60"/>
<line x1="3041" y1="142.5" x2="3086.5" y2="205" stroke="#d4dada" stroke-width="11.20"/>
<line x1="3041" y1="142.5" x2="3086.5" y2="205" stroke="#dee3e3" stroke-width="9.80"/>
<line x1="3041" y1="142.5" x2="3086.5" y2="205" stroke="#e8ecec" stroke-width="8.40"/>
<line x1="3041" y1="142.5" x2="3086.5" y2="205" stroke="#eef1f1" stroke-width="7.00"/>
<line x1="3041" y1="142.5" x2="3086.5" y2="205" stroke="#f3f6f6" stroke-width="5.60"/>
<line x1="3041" y1="142.5" x2="3086.5" y2="205" stroke="#f7f9f9" stroke-width="4.20"/>
<line x1="3041" y1="142.5" x2="3086.5" y2="205" stroke="#fafbfb" stroke-width="2.80"/>
<line x1="2541" y1="710" x2="2585" y2="637.5" stroke="#96a0a0" stroke-width="14.00"/>
<line x1="2541" y1="710" x2="2585" y2="637.5" stroke="#bdc4c4" stroke-width="12.60"/>
<line x1="2541" y1="710" x2="2585" y2="637.5" stroke="#d4dada" stroke-width="11.20"/>
<line x1="2541" y1="710" x2="2585" y2="637.5" stroke="#dee3e3" stroke-width="9.80"/>
<line x1="2541" y1="710" x2="2585" y2="637.5" stroke="#e8ecec" stroke-width="8.40"/>
<line x1="2541" y1="710" x2="2585" y2="637.5" stroke="#eef1f1" stroke-width="7.00"/>
<line x1="2541" y1="710" x2="2585" y2="637.5" stroke="#f3f6f6" stroke-width="5.60"/>
<line x1="2541" y1="710" x2="2585" y2="637.5" stroke="#f7f9f9" stroke-width="4.20"/>
<line x1="2541" y1="710" x2="2585" y2="637.5" stroke="#fafbfb" stroke-width="2.80"/>
<line x1="2585" y1="637.5" x2="2684" y2="639" stroke="#96a0a0" stroke-width="14.00"/>
<line x1="2585" y1="637.5" x2="2684" y2="639" stroke="#bdc4c4" stroke-width="12.60"/>
<line x1="2585" y1="637.5" x2="2684" y2="639" stroke="#d4dada" stroke-width="11.20"/>
<line x1="2585" y1="637.5" x2="2684" y2="639" stroke="#dee3e3" stroke-width="9.80"/>
<line x1="2585" y1="637.5" x2="2684" y2="639" stroke="#e8ecec" stroke-width="8.40"/>
<line x1="2585" y1="637.5" x2="2684" y2="639" stroke="#eef1f1" stroke-width="7.00"/>
<line x1="2585" y1="637.5" x2="2684" y2="639" stroke="#f3f6f6" stroke-width="5.60"/>
<line x1="2585" y1="637.5" x2="2684" y2="639" stroke="#f7f9f9" stroke-width="4.20"/>
<line x1="2585" y1="637.5" x2="2684" y2="639" stroke="#fafbfb" stroke-width="2.80"/>
<line x1="2684" y1="639" x2="2707.5" y2="712.5" stroke="#96a0a0" stroke-width="14.00"/>
<line x1="2684" y1="639" x2="2707.5" y2="712.5" stroke="#bdc4c4" stroke-width="12.60"/>
<line x1="2684" y1="639" x2="2707.5" y2="712.5" stroke="#d4dada" stroke-width="11.20"/>
<line x1="2684" y1="639" x2="2707.5" y2="712.5" stroke="#dee3e3" stroke-width="9.80"/>
<line x1="2684" y1="639" x2="2707.5" y2="712.5" stroke="#e8ecec" stroke-width="8.40"/>
<line x1="2684" y1="639" x2="2707.5" y2="712.5" stroke="#eef1f1" stroke-width="7.00"/>
<line x1="2684" y1="639" x2="2707.5" y2="712.5" stroke="#f3f6f6" stroke-width="5.60"/>
<line x1="2684" y1="639" x2="2707.5" y2="712.5" stroke="#f7f9f9" stroke-width="4.20"/>
<line x1="2684" y1="639" x2="2707.5" y2="712.5" stroke="#fafbfb" stroke-width="2.80"/>
<line x1="2707.5" y1="712.5" x2="2808.5" y2="711" stroke="#96a0a0" stroke-width="14.00"/>
<line x1="2707.5" y1="712.5" x2="2808.5" y2="711" stroke="#bdc4c4" stroke-width="12.60"/>
<line x1="2707.5" y1="712.5" x2="2808.5" y2="711" stroke="#d4dada" stroke-width="11.20"/>
<line x1="2707.5" y1="712.5" x2="2808.5" y2="711" stroke="#dee3e3" stroke-width="9.80"/>
<line x1="2707.5" y1="712.5" x2="2808.5" y2="711" stroke="#e8ecec" stroke-width="8.40"/>
<line x1="2707.5" y1="712.5" x2="2808.5" y2="711" stroke="#eef1f1" stroke-width="7.00"/>
<line x1="2707.5" y1="712.5" x2="2808.5" y2="711" stroke="#f3f6f6" stroke-width="5.60"/>
<line x1="2707.5" y1="712.5" x2="2808.5" y2="711" stroke="#f7f9f9" stroke-width="4.20"/>
<line x1="2707.5" y1="712.5" x2="2808.5" y2="711" stroke="#fafbfb" stroke-width="2.80"/>
<line x1="2808.5" y1="711" x2="2852.5" y2="637.5" stroke="#96a0a0" stroke-width="14.00"/>
<line x1="2808.5" y1="711" x2="2852.5" y2="637.5" stroke="#bdc4c4" stroke-width="12.60"/>
<line x1="2808.5" y1="711" x2="2852.5" y2="637.5" stroke="#d4dada" stroke-width="11.20"/>
<line x1="2808.5" y1="711" x2="2852.5" y2="637.5" stroke="#dee3e3" stroke-width="9.80"/>
<line x1="2808.5" y1="711" x2="2852.5" y2="637.5" stroke="#e8ecec" stroke-width="8.40"/>
<line x1="2808.5" y1="711" x2="2852.5" y2="637.5" stroke="#eef1f1" stroke-width="7.00"/>
<line x1="2808.5" y1="711" x2="2852.5" y2="637.5" stroke="#f3f6f6" stroke-width="5.60"/>
<line x1="2808.5" y1="711" x2="2852.5" y2="637.5" stroke="#f7f9f9" stroke-width="4.20"/>
<line x1="2808.5" y1="711" x2="2852.5" y2="637.5" stroke="#fafbfb" stroke-width="2.80"/>
<line x1="2852.5" y1="637.5" x2="2952.5" y2="640" stroke="#96a0a0" stroke-width="14.00"/>
<line x1="2852.5" y1="637.5" x2="2952.5" y2="640" stroke="#bdc4c4" stroke-width="12.60"/>
<line x1="2852.5" y1="637.5" x2="2952.5" y2="640" stroke="#d4dada" stroke-width="11.20"/>
<line x1="2852.5" y1="637.5" x2="2952.5" y2="640" stroke="#dee3e3" stroke-width="9.80"/>
<line x1="2852.5" y1="637.5" x2="2952.5" y2="640" stroke="#e8ecec" stroke-width="8.40"/>
<line x1="2852.5" y1="637.5" x2="2952.5" y2="640" stroke="#eef1f1" stroke-width="7.00"/>
<line x1="2852.5" y1="637.5" x2="2952.5" y2="640" stroke="#f3f6f6" stroke-width="5.60"/>
<line x1="2852.5" y1="637.5" x2="2952.5" y2="640" stroke="#f7f9f9" stroke-width="4.20"/>
<line x1="2852.5" y1="637.5" x2="2952.5" y2="640" stroke="#fafbfb" stroke-width="2.80"/>
<line x1="2952.5" y1="640" x2="2976.5" y2="712.5" stroke="#96a0a0" stroke-width="14.00"/>
<line x1="2952.5" y1="640" x2="2976.5" y2="712.5" stroke="#bdc4c4" stroke-width="12.60"/>
<line x1="2952.5" y1="640" x2="2976.5" y2="712.5" stroke="#d4dada" stroke-width="11.20"/>
<line x1="2952.5" y1="640" x2="2976.5" y2="712.5" stroke="#dee3e3" stroke-width="9.80"/>
<line x1="2952.5" y1="640" x2="2976.5" y2="712.5" stroke="#e8ecec" stroke-width="8.40"/>
<line x1="2952.5" y1="640" x2="2976.5" y2="712.5" stroke="#eef1f1" stroke-width="7.00"/>
<line x1="2952.5" y1="640" x2="2976.5" y2="712.5" stroke="#f3f6f6" stroke-width="5.60"/>
<line x1="2952.5" y1="640" x2="2976.5" y2="712.5" stroke="#f7f9f9" stroke-width="4.20"/>
<line x1="2952.5" y1="640" x2="2976.5" y2="712.5" stroke="#fafbfb" stroke-width="2.80"/>
<line x1="2976.5" y1="712.5" x2="3076" y2="711" stroke="#96a0a0" stroke-width="14.00"/>
<line x1="2976.5" y1="712.5" x2="3076" y2="711" stroke="#bdc4c4" stroke-width="12.60"/>
<line x1="2976.5" y1="712.5" x2="3076" y2="711" stroke="#d4dada" stroke-width="11.20"/>
<line x1="2976.5" y1="712.5" x2="3076" y2="711" stroke="#dee3e3" stroke-width="9.80"/>
<line x1="2976.5" y1="712.5" x2="3076" y2="711" stroke="#e8ecec" stroke-width="8.40"/>
<line x1="2976.5" y1="712.5" x2="3076" y2="711" stroke="#eef1f1" stroke-width="7.00"/>
<line x1="2976.5" y1="712.5" x2="3076" y2="711" stroke="#f3f6f6" stroke-width="5.60"/>
<line x1="2976.5" y1="712.5" x2="3076" y2="711" stroke="#f7f9f9" stroke-width="4.20"/>
<line x1="2976.5" y1="712.5" x2="3076" y2="711" stroke="#fafbfb" stroke-width="2.80"/>
<circle cx="2550" cy="204" r="21.5" fill="url(#gNb)"/>
<circle cx="2650" cy="205" r="21.5" fill="url(#gNb)"/>
<circle cx="2674" cy="141.5" r="21.5" fill="url(#gNb)"/>
<circle cx="2773.5" cy="141.5" r="21.5" fill="url(#gNb)"/>
<circle cx="2818.5" cy="205" r="21.5" fill="url(#gNb)"/>
<circle cx="2918.5" cy="205" r="21.5" fill="url(#gNb)"/>
<circle cx="2941" cy="142.5" r="21.5" fill="url(#gNb)"/>
<circle cx="3041" cy="142.5" r="21.5" fill="url(#gNb)"/>
<circle cx="3086.5" cy="205" r="21.5" fill="url(#gNb)"/>
<circle cx="2541" cy="710" r="21.5" fill="url(#gNb)"/>
<circle cx="2585" cy="637.5" r="21.5" fill="url(#gNb)"/>
<circle cx="2684" cy="639" r="21.5" fill="url(#gNb)"/>
<circle cx="2707.5" cy="712.5" r="21.5" fill="url(#gNb)"/>
<circle cx="2808.5" cy="711" r="21.5" fill="url(#gNb)"/>
<circle cx="2852.5" cy="637.5" r="21.5" fill="url(#gNb)"/>
<circle cx="2952.5" cy="640" r="21.5" fill="url(#gNb)"/>
<circle cx="2976.5" cy="712.5" r="21.5" fill="url(#gNb)"/>
<circle cx="3076" cy="711" r="21.5" fill="url(#gNb)"/>
<circle cx="2603" cy="380.8" r="21.5" fill="url(#gNb)"/>
<line x1="2586.6" y1="387.4" x2="2648.4" y2="457.3" stroke="#96a0a0" stroke-width="13.00"/>
<line x1="2586.6" y1="387.4" x2="2648.4" y2="457.3" stroke="#bdc4c4" stroke-width="11.70"/>
<line x1="2586.6" y1="387.4" x2="2648.4" y2="457.3" stroke="#d4dada" stroke-width="10.40"/>
<line x1="2586.6" y1="387.4" x2="2648.4" y2="457.3" stroke="#dee3e3" stroke-width="9.10"/>
<line x1="2586.6" y1="387.4" x2="2648.4" y2="457.3" stroke="#e8ecec" stroke-width="7.80"/>
<line x1="2586.6" y1="387.4" x2="2648.4" y2="457.3" stroke="#eef1f1" stroke-width="6.50"/>
<line x1="2586.6" y1="387.4" x2="2648.4" y2="457.3" stroke="#f3f6f6" stroke-width="5.20"/>
<line x1="2586.6" y1="387.4" x2="2648.4" y2="457.3" stroke="#f7f9f9" stroke-width="3.90"/>
<line x1="2586.6" y1="387.4" x2="2648.4" y2="457.3" stroke="#fafbfb" stroke-width="2.60"/>
<circle cx="2648.4" cy="457.3" r="21.5" fill="url(#gNb)"/>
<circle cx="2586.6" cy="387.4" r="21.5" fill="url(#gNb)"/>
<line x1="2559.6" y1="400.2" x2="2631.5" y2="465.5" stroke="#96a0a0" stroke-width="13.00"/>
<line x1="2559.6" y1="400.2" x2="2631.5" y2="465.5" stroke="#bdc4c4" stroke-width="11.70"/>
<line x1="2559.6" y1="400.2" x2="2631.5" y2="465.5" stroke="#d4dada" stroke-width="10.40"/>
<line x1="2559.6" y1="400.2" x2="2631.5" y2="465.5" stroke="#dee3e3" stroke-width="9.10"/>
<line x1="2559.6" y1="400.2" x2="2631.5" y2="465.5" stroke="#e8ecec" stroke-width="7.80"/>
<line x1="2559.6" y1="400.2" x2="2631.5" y2="465.5" stroke="#eef1f1" stroke-width="6.50"/>
<line x1="2559.6" y1="400.2" x2="2631.5" y2="465.5" stroke="#f3f6f6" stroke-width="5.20"/>
<line x1="2559.6" y1="400.2" x2="2631.5" y2="465.5" stroke="#f7f9f9" stroke-width="3.90"/>
<line x1="2559.6" y1="400.2" x2="2631.5" y2="465.5" stroke="#fafbfb" stroke-width="2.60"/>
<circle cx="2631.5" cy="465.5" r="21.5" fill="url(#gNb)"/>
<circle cx="2559.6" cy="400.2" r="21.5" fill="url(#gNb)"/>
<circle cx="2870.5" cy="380.8" r="21.5" fill="url(#gNb)"/>
<line x1="2854.1" y1="387.4" x2="2915.9" y2="457.3" stroke="#96a0a0" stroke-width="13.00"/>
<line x1="2854.1" y1="387.4" x2="2915.9" y2="457.3" stroke="#bdc4c4" stroke-width="11.70"/>
<line x1="2854.1" y1="387.4" x2="2915.9" y2="457.3" stroke="#d4dada" stroke-width="10.40"/>
<line x1="2854.1" y1="387.4" x2="2915.9" y2="457.3" stroke="#dee3e3" stroke-width="9.10"/>
<line x1="2854.1" y1="387.4" x2="2915.9" y2="457.3" stroke="#e8ecec" stroke-width="7.80"/>
<line x1="2854.1" y1="387.4" x2="2915.9" y2="457.3" stroke="#eef1f1" stroke-width="6.50"/>
<line x1="2854.1" y1="387.4" x2="2915.9" y2="457.3" stroke="#f3f6f6" stroke-width="5.20"/>
<line x1="2854.1" y1="387.4" x2="2915.9" y2="457.3" stroke="#f7f9f9" stroke-width="3.90"/>
<line x1="2854.1" y1="387.4" x2="2915.9" y2="457.3" stroke="#fafbfb" stroke-width="2.60"/>
<circle cx="2915.9" cy="457.3" r="21.5" fill="url(#gNb)"/>
<circle cx="2854.1" cy="387.4" r="21.5" fill="url(#gNb)"/>
<line x1="2827.1" y1="400.2" x2="2899.0" y2="465.5" stroke="#96a0a0" stroke-width="13.00"/>
<line x1="2827.1" y1="400.2" x2="2899.0" y2="465.5" stroke="#bdc4c4" stroke-width="11.70"/>
<line x1="2827.1" y1="400.2" x2="2899.0" y2="465.5" stroke="#d4dada" stroke-width="10.40"/>
<line x1="2827.1" y1="400.2" x2="2899.0" y2="465.5" stroke="#dee3e3" stroke-width="9.10"/>
<line x1="2827.1" y1="400.2" x2="2899.0" y2="465.5" stroke="#e8ecec" stroke-width="7.80"/>
<line x1="2827.1" y1="400.2" x2="2899.0" y2="465.5" stroke="#eef1f1" stroke-width="6.50"/>
<line x1="2827.1" y1="400.2" x2="2899.0" y2="465.5" stroke="#f3f6f6" stroke-width="5.20"/>
<line x1="2827.1" y1="400.2" x2="2899.0" y2="465.5" stroke="#f7f9f9" stroke-width="3.90"/>
<line x1="2827.1" y1="400.2" x2="2899.0" y2="465.5" stroke="#fafbfb" stroke-width="2.60"/>
<circle cx="2899.0" cy="465.5" r="21.5" fill="url(#gNb)"/>
<circle cx="2827.1" cy="400.2" r="21.5" fill="url(#gNb)"/>
<circle cx="2804.3" cy="876.2" r="21.5" fill="url(#gNb)"/>
<line x1="2777.8" y1="886.4" x2="2742" y2="949.7" stroke="#96a0a0" stroke-width="13.00"/>
<line x1="2777.8" y1="886.4" x2="2742" y2="949.7" stroke="#bdc4c4" stroke-width="11.70"/>
<line x1="2777.8" y1="886.4" x2="2742" y2="949.7" stroke="#d4dada" stroke-width="10.40"/>
<line x1="2777.8" y1="886.4" x2="2742" y2="949.7" stroke="#dee3e3" stroke-width="9.10"/>
<line x1="2777.8" y1="886.4" x2="2742" y2="949.7" stroke="#e8ecec" stroke-width="7.80"/>
<line x1="2777.8" y1="886.4" x2="2742" y2="949.7" stroke="#eef1f1" stroke-width="6.50"/>
<line x1="2777.8" y1="886.4" x2="2742" y2="949.7" stroke="#f3f6f6" stroke-width="5.20"/>
<line x1="2777.8" y1="886.4" x2="2742" y2="949.7" stroke="#f7f9f9" stroke-width="3.90"/>
<line x1="2777.8" y1="886.4" x2="2742" y2="949.7" stroke="#fafbfb" stroke-width="2.60"/>
<circle cx="2742" cy="949.7" r="21.5" fill="url(#gNb)"/>
<circle cx="2777.8" cy="886.4" r="21.5" fill="url(#gNb)"/>
<line x1="2762" y1="895.1" x2="2716.5" y2="952.2" stroke="#96a0a0" stroke-width="13.00"/>
<line x1="2762" y1="895.1" x2="2716.5" y2="952.2" stroke="#bdc4c4" stroke-width="11.70"/>
<line x1="2762" y1="895.1" x2="2716.5" y2="952.2" stroke="#d4dada" stroke-width="10.40"/>
<line x1="2762" y1="895.1" x2="2716.5" y2="952.2" stroke="#dee3e3" stroke-width="9.10"/>
<line x1="2762" y1="895.1" x2="2716.5" y2="952.2" stroke="#e8ecec" stroke-width="7.80"/>
<line x1="2762" y1="895.1" x2="2716.5" y2="952.2" stroke="#eef1f1" stroke-width="6.50"/>
<line x1="2762" y1="895.1" x2="2716.5" y2="952.2" stroke="#f3f6f6" stroke-width="5.20"/>
<line x1="2762" y1="895.1" x2="2716.5" y2="952.2" stroke="#f7f9f9" stroke-width="3.90"/>
<line x1="2762" y1="895.1" x2="2716.5" y2="952.2" stroke="#fafbfb" stroke-width="2.60"/>
<circle cx="2762" cy="895.1" r="21.5" fill="url(#gNb)"/>
<circle cx="2716.5" cy="952.2" r="21.5" fill="url(#gNb)"/>
<circle cx="3071.8" cy="876.2" r="21.5" fill="url(#gNb)"/>
<line x1="3045.3" y1="886.4" x2="3009.5" y2="949.7" stroke="#96a0a0" stroke-width="13.00"/>
<line x1="3045.3" y1="886.4" x2="3009.5" y2="949.7" stroke="#bdc4c4" stroke-width="11.70"/>
<line x1="3045.3" y1="886.4" x2="3009.5" y2="949.7" stroke="#d4dada" stroke-width="10.40"/>
<line x1="3045.3" y1="886.4" x2="3009.5" y2="949.7" stroke="#dee3e3" stroke-width="9.10"/>
<line x1="3045.3" y1="886.4" x2="3009.5" y2="949.7" stroke="#e8ecec" stroke-width="7.80"/>
<line x1="3045.3" y1="886.4" x2="3009.5" y2="949.7" stroke="#eef1f1" stroke-width="6.50"/>
<line x1="3045.3" y1="886.4" x2="3009.5" y2="949.7" stroke="#f3f6f6" stroke-width="5.20"/>
<line x1="3045.3" y1="886.4" x2="3009.5" y2="949.7" stroke="#f7f9f9" stroke-width="3.90"/>
<line x1="3045.3" y1="886.4" x2="3009.5" y2="949.7" stroke="#fafbfb" stroke-width="2.60"/>
<circle cx="3009.5" cy="949.7" r="21.5" fill="url(#gNb)"/>
<circle cx="3045.3" cy="886.4" r="21.5" fill="url(#gNb)"/>
<line x1="3029.5" y1="895.1" x2="2984.0" y2="952.2" stroke="#96a0a0" stroke-width="13.00"/>
<line x1="3029.5" y1="895.1" x2="2984.0" y2="952.2" stroke="#bdc4c4" stroke-width="11.70"/>
<line x1="3029.5" y1="895.1" x2="2984.0" y2="952.2" stroke="#d4dada" stroke-width="10.40"/>
<line x1="3029.5" y1="895.1" x2="2984.0" y2="952.2" stroke="#dee3e3" stroke-width="9.10"/>
<line x1="3029.5" y1="895.1" x2="2984.0" y2="952.2" stroke="#e8ecec" stroke-width="7.80"/>
<line x1="3029.5" y1="895.1" x2="2984.0" y2="952.2" stroke="#eef1f1" stroke-width="6.50"/>
<line x1="3029.5" y1="895.1" x2="2984.0" y2="952.2" stroke="#f3f6f6" stroke-width="5.20"/>
<line x1="3029.5" y1="895.1" x2="2984.0" y2="952.2" stroke="#f7f9f9" stroke-width="3.90"/>
<line x1="3029.5" y1="895.1" x2="2984.0" y2="952.2" stroke="#fafbfb" stroke-width="2.60"/>
<circle cx="3029.5" cy="895.1" r="21.5" fill="url(#gNb)"/>
<circle cx="2984.0" cy="952.2" r="21.5" fill="url(#gNb)"/>
<circle cx="2715" cy="305" r="59.5" fill="url(#gMb)"/>
<circle cx="2982.5" cy="305" r="59.5" fill="url(#gMb)"/>
<circle cx="2784" cy="541.5" r="59.5" fill="url(#gMb)"/>
<circle cx="3051.5" cy="542.5" r="59.5" fill="url(#gMb)"/>
<circle cx="2645" cy="791.5" r="59.5" fill="url(#gMb)"/>
<circle cx="2912.5" cy="791.5" r="59.5" fill="url(#gMb)"/>
<line x1="2521" y1="63.5" x2="3057.5" y2="64" stroke="#0a0a0a" stroke-width="5" stroke-linecap="square"/>
<line x1="2562" y1="45" x2="3098.5" y2="46" stroke="#0a0a0a" stroke-width="5" stroke-linecap="square"/>
<line x1="3057.5" y1="64" x2="3098.5" y2="46" stroke="#0a0a0a" stroke-width="5" stroke-linecap="square"/>
<line x1="2530" y1="1050" x2="3065" y2="1052.5" stroke="#0a0a0a" stroke-width="5" stroke-linecap="square"/>
<line x1="2572" y1="1030" x2="3107.5" y2="1034" stroke="#0a0a0a" stroke-width="5" stroke-linecap="square"/>
<line x1="3065" y1="1052.5" x2="3107.5" y2="1034" stroke="#0a0a0a" stroke-width="5" stroke-linecap="square"/>
<line x1="2530" y1="1050" x2="2572" y2="1030" stroke="#0a0a0a" stroke-width="5" stroke-linecap="square"/>
<line x1="2521" y1="63.5" x2="2562" y2="45" stroke="#0a0a0a" stroke-width="5" stroke-linecap="square"/>
<line x1="2521" y1="63.5" x2="2530" y2="1050" stroke="#0a0a0a" stroke-width="5" stroke-linecap="square"/>
<line x1="2562" y1="45" x2="2572" y2="1030" stroke="#0a0a0a" stroke-width="5" stroke-linecap="square"/>
<line x1="2789" y1="63.5" x2="2797" y2="1051" stroke="#0a0a0a" stroke-width="5" stroke-linecap="square"/>
<line x1="2830" y1="45" x2="2838" y2="1032" stroke="#0a0a0a" stroke-width="5" stroke-linecap="square"/>
<line x1="3057.5" y1="64" x2="3065" y2="1052.5" stroke="#0a0a0a" stroke-width="5" stroke-linecap="square"/>
<line x1="3098.5" y1="46" x2="3107.5" y2="1034" stroke="#0a0a0a" stroke-width="5" stroke-linecap="square"/>
<circle cx="2572.5" cy="60" r="59.5" fill="url(#gMb)"/>
<circle cx="2840" cy="60" r="59.5" fill="url(#gMb)"/>
<circle cx="2581" cy="1047.5" r="59.5" fill="url(#gMb)"/>
<circle cx="2848.5" cy="1047.5" r="59.5" fill="url(#gMb)"/>
<circle cx="3238.5" cy="970" r="24.2" fill="url(#gL)"/>
<circle cx="3238.5" cy="1047.5" r="24.4" fill="url(#gNL)"/>
<text x="3287" y="991.5" font-size="66" text-anchor="start" >Ca</text>
<text x="3287" y="1069" font-size="66" text-anchor="start" >N</text>
<text x="2502" y="1212.5" font-size="66" text-anchor="start" ><tspan font-style="italic">P</tspan>4<tspan font-size="44" dy="14">1</tspan><tspan dy="-14">2</tspan><tspan font-size="44" dy="14">1</tspan><tspan dy="-14">2-CaN</tspan><tspan font-size="44" dy="14">4</tspan><tspan dy="-14">, 0.63 kJ/g</tspan></text>
<circle cx="592.5" cy="1496" r="62.5" fill="url(#gM)"/>
<line x1="335" y1="1471" x2="414" y2="1412.5" stroke="#8c8c8c" stroke-width="14.00"/>
<line x1="335" y1="1471" x2="414" y2="1412.5" stroke="#b9b9b9" stroke-width="12.60"/>
<line x1="335" y1="1471" x2="414" y2="1412.5" stroke="#d2d2d2" stroke-width="11.20"/>
<line x1="335" y1="1471" x2="414" y2="1412.5" stroke="#dedede" stroke-width="9.80"/>
<line x1="335" y1="1471" x2="414" y2="1412.5" stroke="#eaeaea" stroke-width="8.40"/>
<line x1="335" y1="1471" x2="414" y2="1412.5" stroke="#f0f0f0" stroke-width="7.00"/>
<line x1="335" y1="1471" x2="414" y2="1412.5" stroke="#f5f5f5" stroke-width="5.60"/>
<line x1="335" y1="1471" x2="414" y2="1412.5" stroke="#f9f9f9" stroke-width="4.20"/>
<line x1="335" y1="1471" x2="414" y2="1412.5" stroke="#fbfbfb" stroke-width="2.80"/>
<line x1="414" y1="1412.5" x2="460" y2="1387.5" stroke="#6e6e6e" stroke-width="14.00"/>
<line x1="414" y1="1412.5" x2="460" y2="1387.5" stroke="#808080" stroke-width="9.80"/>
<line x1="414" y1="1412.5" x2="460" y2="1387.5" stroke="#949494" stroke-width="4.90"/>
<line x1="790" y1="1410" x2="710" y2="1467.5" stroke="#8c8c8c" stroke-width="14.00"/>
<line x1="790" y1="1410" x2="710" y2="1467.5" stroke="#b9b9b9" stroke-width="12.60"/>
<line x1="790" y1="1410" x2="710" y2="1467.5" stroke="#d2d2d2" stroke-width="11.20"/>
<line x1="790" y1="1410" x2="710" y2="1467.5" stroke="#dedede" stroke-width="9.80"/>
<line x1="790" y1="1410" x2="710" y2="1467.5" stroke="#eaeaea" stroke-width="8.40"/>
<line x1="790" y1="1410" x2="710" y2="1467.5" stroke="#f0f0f0" stroke-width="7.00"/>
<line x1="790" y1="1410" x2="710" y2="1467.5" stroke="#f5f5f5" stroke-width="5.60"/>
<line x1="790" y1="1410" x2="710" y2="1467.5" stroke="#f9f9f9" stroke-width="4.20"/>
<line x1="790" y1="1410" x2="710" y2="1467.5" stroke="#fbfbfb" stroke-width="2.80"/>
<line x1="710" y1="1467.5" x2="699" y2="1492.5" stroke="#6e6e6e" stroke-width="14.00"/>
<line x1="710" y1="1467.5" x2="699" y2="1492.5" stroke="#808080" stroke-width="9.80"/>
<line x1="710" y1="1467.5" x2="699" y2="1492.5" stroke="#949494" stroke-width="4.90"/>
<line x1="699" y1="1492.5" x2="619" y2="1551.5" stroke="#8c8c8c" stroke-width="14.00"/>
<line x1="699" y1="1492.5" x2="619" y2="1551.5" stroke="#b9b9b9" stroke-width="12.60"/>
<line x1="699" y1="1492.5" x2="619" y2="1551.5" stroke="#d2d2d2" stroke-width="11.20"/>
<line x1="699" y1="1492.5" x2="619" y2="1551.5" stroke="#dedede" stroke-width="9.80"/>
<line x1="699" y1="1492.5" x2="619" y2="1551.5" stroke="#eaeaea" stroke-width="8.40"/>
<line x1="699" y1="1492.5" x2="619" y2="1551.5" stroke="#f0f0f0" stroke-width="7.00"/>
<line x1="699" y1="1492.5" x2="619" y2="1551.5" stroke="#f5f5f5" stroke-width="5.60"/>
<line x1="699" y1="1492.5" x2="619" y2="1551.5" stroke="#f9f9f9" stroke-width="4.20"/>
<line x1="699" y1="1492.5" x2="619" y2="1551.5" stroke="#fbfbfb" stroke-width="2.80"/>
<line x1="619" y1="1551.5" x2="572.5" y2="1577.5" stroke="#6e6e6e" stroke-width="14.00"/>
<line x1="619" y1="1551.5" x2="572.5" y2="1577.5" stroke="#808080" stroke-width="9.80"/>
<line x1="619" y1="1551.5" x2="572.5" y2="1577.5" stroke="#949494" stroke-width="4.90"/>
<line x1="572.5" y1="1577.5" x2="493.5" y2="1635" stroke="#8c8c8c" stroke-width="14.00"/>
<line x1="572.5" y1="1577.5" x2="493.5" y2="1635" stroke="#b9b9b9" stroke-width="12.60"/>
<line x1="572.5" y1="1577.5" x2="493.5" y2="1635" stroke="#d2d2d2" stroke-width="11.20"/>
<line x1="572.5" y1="1577.5" x2="493.5" y2="1635" stroke="#dedede" stroke-width="9.80"/>
<line x1="572.5" y1="1577.5" x2="493.5" y2="1635" stroke="#eaeaea" stroke-width="8.40"/>
<line x1="572.5" y1="1577.5" x2="493.5" y2="1635" stroke="#f0f0f0" stroke-width="7.00"/>
<line x1="572.5" y1="1577.5" x2="493.5" y2="1635" stroke="#f5f5f5" stroke-width="5.60"/>
<line x1="572.5" y1="1577.5" x2="493.5" y2="1635" stroke="#f9f9f9" stroke-width="4.20"/>
<line x1="572.5" y1="1577.5" x2="493.5" y2="1635" stroke="#fbfbfb" stroke-width="2.80"/>
<circle cx="335" cy="1471" r="21" fill="url(#gN)"/>
<circle cx="414" cy="1412.5" r="21" fill="url(#gN)"/>
<circle cx="460" cy="1387.5" r="21" fill="url(#gN)"/>
<circle cx="790" cy="1410" r="21" fill="url(#gN)"/>
<circle cx="710" cy="1467.5" r="21" fill="url(#gN)"/>
<circle cx="699" cy="1492.5" r="21" fill="url(#gN)"/>
<circle cx="619" cy="1551.5" r="21" fill="url(#gN)"/>
<circle cx="572.5" cy="1577.5" r="21" fill="url(#gN)"/>
<circle cx="493.5" cy="1635" r="21" fill="url(#gN)"/>
<circle cx="376" cy="1662.5" r="62.5" fill="url(#gM)"/>
<line x1="551.5" y1="1687.5" x2="609" y2="1746.5" stroke="#8c8c8c" stroke-width="14.00"/>
<line x1="551.5" y1="1687.5" x2="609" y2="1746.5" stroke="#b9b9b9" stroke-width="12.60"/>
<line x1="551.5" y1="1687.5" x2="609" y2="1746.5" stroke="#d2d2d2" stroke-width="11.20"/>
<line x1="551.5" y1="1687.5" x2="609" y2="1746.5" stroke="#dedede" stroke-width="9.80"/>
<line x1="551.5" y1="1687.5" x2="609" y2="1746.5" stroke="#eaeaea" stroke-width="8.40"/>
<line x1="551.5" y1="1687.5" x2="609" y2="1746.5" stroke="#f0f0f0" stroke-width="7.00"/>
<line x1="551.5" y1="1687.5" x2="609" y2="1746.5" stroke="#f5f5f5" stroke-width="5.60"/>
<line x1="551.5" y1="1687.5" x2="609" y2="1746.5" stroke="#f9f9f9" stroke-width="4.20"/>
<line x1="551.5" y1="1687.5" x2="609" y2="1746.5" stroke="#fbfbfb" stroke-width="2.80"/>
<line x1="609" y1="1746.5" x2="696.5" y2="1770" stroke="#8c8c8c" stroke-width="14.00"/>
<line x1="609" y1="1746.5" x2="696.5" y2="1770" stroke="#b9b9b9" stroke-width="12.60"/>
<line x1="609" y1="1746.5" x2="696.5" y2="1770" stroke="#d2d2d2" stroke-width="11.20"/>
<line x1="609" y1="1746.5" x2="696.5" y2="1770" stroke="#dedede" stroke-width="9.80"/>
<line x1="609" y1="1746.5" x2="696.5" y2="1770" stroke="#eaeaea" stroke-width="8.40"/>
<line x1="609" y1="1746.5" x2="696.5" y2="1770" stroke="#f0f0f0" stroke-width="7.00"/>
<line x1="609" y1="1746.5" x2="696.5" y2="1770" stroke="#f5f5f5" stroke-width="5.60"/>
<line x1="609" y1="1746.5" x2="696.5" y2="1770" stroke="#f9f9f9" stroke-width="4.20"/>
<line x1="609" y1="1746.5" x2="696.5" y2="1770" stroke="#fbfbfb" stroke-width="2.80"/>
<line x1="696.5" y1="1770" x2="755" y2="1828.5" stroke="#8c8c8c" stroke-width="14.00"/>
<line x1="696.5" y1="1770" x2="755" y2="1828.5" stroke="#b9b9b9" stroke-width="12.60"/>
<line x1="696.5" y1="1770" x2="755" y2="1828.5" stroke="#d2d2d2" stroke-width="11.20"/>
<line x1="696.5" y1="1770" x2="755" y2="1828.5" stroke="#dedede" stroke-width="9.80"/>
<line x1="696.5" y1="1770" x2="755" y2="1828.5" stroke="#eaeaea" stroke-width="8.40"/>
<line x1="696.5" y1="1770" x2="755" y2="1828.5" stroke="#f0f0f0" stroke-width="7.00"/>
<line x1="696.5" y1="1770" x2="755" y2="1828.5" stroke="#f5f5f5" stroke-width="5.60"/>
<line x1="696.5" y1="1770" x2="755" y2="1828.5" stroke="#f9f9f9" stroke-width="4.20"/>
<line x1="696.5" y1="1770" x2="755" y2="1828.5" stroke="#fbfbfb" stroke-width="2.80"/>
<line x1="755" y1="1828.5" x2="711" y2="1850" stroke="#6e6e6e" stroke-width="14.00"/>
<line x1="755" y1="1828.5" x2="711" y2="1850" stroke="#808080" stroke-width="9.80"/>
<line x1="755" y1="1828.5" x2="711" y2="1850" stroke="#949494" stroke-width="4.90"/>
<line x1="711" y1="1850" x2="769" y2="1909" stroke="#8c8c8c" stroke-width="14.00"/>
<line x1="711" y1="1850" x2="769" y2="1909" stroke="#b9b9b9" stroke-width="12.60"/>
<line x1="711" y1="1850" x2="769" y2="1909" stroke="#d2d2d2" stroke-width="11.20"/>
<line x1="711" y1="1850" x2="769" y2="1909" stroke="#dedede" stroke-width="9.80"/>
<line x1="711" y1="1850" x2="769" y2="1909" stroke="#eaeaea" stroke-width="8.40"/>
<line x1="711" y1="1850" x2="769" y2="1909" stroke="#f0f0f0" stroke-width="7.00"/>
<line x1="711" y1="1850" x2="769" y2="1909" stroke="#f5f5f5" stroke-width="5.60"/>
<line x1="711" y1="1850" x2="769" y2="1909" stroke="#f9f9f9" stroke-width="4.20"/>
<line x1="711" y1="1850" x2="769" y2="1909" stroke="#fbfbfb" stroke-width="2.80"/>
<line x1="320" y1="1772.5" x2="377.5" y2="1830" stroke="#8c8c8c" stroke-width="14.00"/>
<line x1="320" y1="1772.5" x2="377.5" y2="1830" stroke="#b9b9b9" stroke-width="12.60"/>
<line x1="320" y1="1772.5" x2="377.5" y2="1830" stroke="#d2d2d2" stroke-width="11.20"/>
<line x1="320" y1="1772.5" x2="377.5" y2="1830" stroke="#dedede" stroke-width="9.80"/>
<line x1="320" y1="1772.5" x2="377.5" y2="1830" stroke="#eaeaea" stroke-width="8.40"/>
<line x1="320" y1="1772.5" x2="377.5" y2="1830" stroke="#f0f0f0" stroke-width="7.00"/>
<line x1="320" y1="1772.5" x2="377.5" y2="1830" stroke="#f5f5f5" stroke-width="5.60"/>
<line x1="320" y1="1772.5" x2="377.5" y2="1830" stroke="#f9f9f9" stroke-width="4.20"/>
<line x1="320" y1="1772.5" x2="377.5" y2="1830" stroke="#fbfbfb" stroke-width="2.80"/>
<line x1="377.5" y1="1830" x2="335" y2="1850" stroke="#6e6e6e" stroke-width="14.00"/>
<line x1="377.5" y1="1830" x2="335" y2="1850" stroke="#808080" stroke-width="9.80"/>
<line x1="377.5" y1="1830" x2="335" y2="1850" stroke="#949494" stroke-width="4.90"/>
<line x1="335" y1="1850" x2="392.5" y2="1911" stroke="#8c8c8c" stroke-width="14.00"/>
<line x1="335" y1="1850" x2="392.5" y2="1911" stroke="#b9b9b9" stroke-width="12.60"/>
<line x1="335" y1="1850" x2="392.5" y2="1911" stroke="#d2d2d2" stroke-width="11.20"/>
<line x1="335" y1="1850" x2="392.5" y2="1911" stroke="#dedede" stroke-width="9.80"/>
<line x1="335" y1="1850" x2="392.5" y2="1911" stroke="#eaeaea" stroke-width="8.40"/>
<line x1="335" y1="1850" x2="392.5" y2="1911" stroke="#f0f0f0" stroke-width="7.00"/>
<line x1="335" y1="1850" x2="392.5" y2="1911" stroke="#f5f5f5" stroke-width="5.60"/>
<line x1="335" y1="1850" x2="392.5" y2="1911" stroke="#f9f9f9" stroke-width="4.20"/>
<line x1="335" y1="1850" x2="392.5" y2="1911" stroke="#fbfbfb" stroke-width="2.80"/>
<line x1="392.5" y1="1911" x2="478.5" y2="1935" stroke="#8c8c8c" stroke-width="14.00"/>
<line x1="392.5" y1="1911" x2="478.5" y2="1935" stroke="#b9b9b9" stroke-width="12.60"/>
<line x1="392.5" y1="1911" x2="478.5" y2="1935" stroke="#d2d2d2" stroke-width="11.20"/>
<line x1="392.5" y1="1911" x2="478.5" y2="1935" stroke="#dedede" stroke-width="9.80"/>
<line x1="392.5" y1="1911" x2="478.5" y2="1935" stroke="#eaeaea" stroke-width="8.40"/>
<line x1="392.5" y1="1911" x2="478.5" y2="1935" stroke="#f0f0f0" stroke-width="7.00"/>
<line x1="392.5" y1="1911" x2="478.5" y2="1935" stroke="#f5f5f5" stroke-width="5.60"/>
<line x1="392.5" y1="1911" x2="478.5" y2="1935" stroke="#f9f9f9" stroke-width="4.20"/>
<line x1="392.5" y1="1911" x2="478.5" y2="1935" stroke="#fbfbfb" stroke-width="2.80"/>
<line x1="478.5" y1="1935" x2="536.5" y2="1994" stroke="#8c8c8c" stroke-width="14.00"/>
<line x1="478.5" y1="1935" x2="536.5" y2="1994" stroke="#b9b9b9" stroke-width="12.60"/>
<line x1="478.5" y1="1935" x2="536.5" y2="1994" stroke="#d2d2d2" stroke-width="11.20"/>
<line x1="478.5" y1="1935" x2="536.5" y2="1994" stroke="#dedede" stroke-width="9.80"/>
<line x1="478.5" y1="1935" x2="536.5" y2="1994" stroke="#eaeaea" stroke-width="8.40"/>
<line x1="478.5" y1="1935" x2="536.5" y2="1994" stroke="#f0f0f0" stroke-width="7.00"/>
<line x1="478.5" y1="1935" x2="536.5" y2="1994" stroke="#f5f5f5" stroke-width="5.60"/>
<line x1="478.5" y1="1935" x2="536.5" y2="1994" stroke="#f9f9f9" stroke-width="4.20"/>
<line x1="478.5" y1="1935" x2="536.5" y2="1994" stroke="#fbfbfb" stroke-width="2.80"/>
<circle cx="551.5" cy="1687.5" r="21" fill="url(#gN)"/>
<circle cx="609" cy="1746.5" r="21" fill="url(#gN)"/>
<circle cx="696.5" cy="1770" r="21" fill="url(#gN)"/>
<circle cx="755" cy="1828.5" r="21" fill="url(#gN)"/>
<circle cx="711" cy="1850" r="21" fill="url(#gN)"/>
<circle cx="769" cy="1909" r="21" fill="url(#gN)"/>
<circle cx="320" cy="1772.5" r="21" fill="url(#gN)"/>
<circle cx="377.5" cy="1830" r="21" fill="url(#gN)"/>
<circle cx="335" cy="1850" r="21" fill="url(#gN)"/>
<circle cx="392.5" cy="1911" r="21" fill="url(#gN)"/>
<circle cx="478.5" cy="1935" r="21" fill="url(#gN)"/>
<circle cx="536.5" cy="1994" r="21" fill="url(#gN)"/>
<circle cx="555" cy="1857.5" r="62.5" fill="url(#gMd)"/>
<circle cx="535" cy="1825" r="62.5" fill="url(#gM)"/>
<line x1="390" y1="2189" x2="467.5" y2="2126" stroke="#8c8c8c" stroke-width="14.00"/>
<line x1="390" y1="2189" x2="467.5" y2="2126" stroke="#b9b9b9" stroke-width="12.60"/>
<line x1="390" y1="2189" x2="467.5" y2="2126" stroke="#d2d2d2" stroke-width="11.20"/>
<line x1="390" y1="2189" x2="467.5" y2="2126" stroke="#dedede" stroke-width="9.80"/>
<line x1="390" y1="2189" x2="467.5" y2="2126" stroke="#eaeaea" stroke-width="8.40"/>
<line x1="390" y1="2189" x2="467.5" y2="2126" stroke="#f0f0f0" stroke-width="7.00"/>
<line x1="390" y1="2189" x2="467.5" y2="2126" stroke="#f5f5f5" stroke-width="5.60"/>
<line x1="390" y1="2189" x2="467.5" y2="2126" stroke="#f9f9f9" stroke-width="4.20"/>
<line x1="390" y1="2189" x2="467.5" y2="2126" stroke="#fbfbfb" stroke-width="2.80"/>
<line x1="467.5" y1="2126" x2="516.5" y2="2105" stroke="#6e6e6e" stroke-width="14.00"/>
<line x1="467.5" y1="2126" x2="516.5" y2="2105" stroke="#808080" stroke-width="9.80"/>
<line x1="467.5" y1="2126" x2="516.5" y2="2105" stroke="#949494" stroke-width="4.90"/>
<circle cx="390" cy="2189" r="21" fill="url(#gN)"/>
<circle cx="467.5" cy="2126" r="21" fill="url(#gN)"/>
<circle cx="516.5" cy="2105" r="21" fill="url(#gN)"/>
<circle cx="495" cy="2185" r="62.5" fill="url(#gM)"/>
<line x1="300" y1="2271" x2="379" y2="2212.5" stroke="#8c8c8c" stroke-width="14.00"/>
<line x1="300" y1="2271" x2="379" y2="2212.5" stroke="#b9b9b9" stroke-width="12.60"/>
<line x1="300" y1="2271" x2="379" y2="2212.5" stroke="#d2d2d2" stroke-width="11.20"/>
<line x1="300" y1="2271" x2="379" y2="2212.5" stroke="#dedede" stroke-width="9.80"/>
<line x1="300" y1="2271" x2="379" y2="2212.5" stroke="#eaeaea" stroke-width="8.40"/>
<line x1="300" y1="2271" x2="379" y2="2212.5" stroke="#f0f0f0" stroke-width="7.00"/>
<line x1="300" y1="2271" x2="379" y2="2212.5" stroke="#f5f5f5" stroke-width="5.60"/>
<line x1="300" y1="2271" x2="379" y2="2212.5" stroke="#f9f9f9" stroke-width="4.20"/>
<line x1="300" y1="2271" x2="379" y2="2212.5" stroke="#fbfbfb" stroke-width="2.80"/>
<line x1="379" y1="2212.5" x2="390" y2="2189" stroke="#6e6e6e" stroke-width="14.00"/>
<line x1="379" y1="2212.5" x2="390" y2="2189" stroke="#808080" stroke-width="9.80"/>
<line x1="379" y1="2212.5" x2="390" y2="2189" stroke="#949494" stroke-width="4.90"/>
<line x1="516.5" y1="2105" x2="594" y2="2047.5" stroke="#8c8c8c" stroke-width="14.00"/>
<line x1="516.5" y1="2105" x2="594" y2="2047.5" stroke="#b9b9b9" stroke-width="12.60"/>
<line x1="516.5" y1="2105" x2="594" y2="2047.5" stroke="#d2d2d2" stroke-width="11.20"/>
<line x1="516.5" y1="2105" x2="594" y2="2047.5" stroke="#dedede" stroke-width="9.80"/>
<line x1="516.5" y1="2105" x2="594" y2="2047.5" stroke="#eaeaea" stroke-width="8.40"/>
<line x1="516.5" y1="2105" x2="594" y2="2047.5" stroke="#f0f0f0" stroke-width="7.00"/>
<line x1="516.5" y1="2105" x2="594" y2="2047.5" stroke="#f5f5f5" stroke-width="5.60"/>
<line x1="516.5" y1="2105" x2="594" y2="2047.5" stroke="#f9f9f9" stroke-width="4.20"/>
<line x1="516.5" y1="2105" x2="594" y2="2047.5" stroke="#fbfbfb" stroke-width="2.80"/>
<circle cx="300" cy="2271" r="21" fill="url(#gN)"/>
<circle cx="379" cy="2212.5" r="21" fill="url(#gN)"/>
<circle cx="516.5" cy="2105" r="21" fill="url(#gN)"/>
<circle cx="594" cy="2047.5" r="21" fill="url(#gN)"/>
<line x1="629" y1="2294" x2="674" y2="2270" stroke="#6e6e6e" stroke-width="14.00"/>
<line x1="629" y1="2294" x2="674" y2="2270" stroke="#808080" stroke-width="9.80"/>
<line x1="629" y1="2294" x2="674" y2="2270" stroke="#949494" stroke-width="4.90"/>
<line x1="674" y1="2270" x2="754" y2="2211" stroke="#8c8c8c" stroke-width="14.00"/>
<line x1="674" y1="2270" x2="754" y2="2211" stroke="#b9b9b9" stroke-width="12.60"/>
<line x1="674" y1="2270" x2="754" y2="2211" stroke="#d2d2d2" stroke-width="11.20"/>
<line x1="674" y1="2270" x2="754" y2="2211" stroke="#dedede" stroke-width="9.80"/>
<line x1="674" y1="2270" x2="754" y2="2211" stroke="#eaeaea" stroke-width="8.40"/>
<line x1="674" y1="2270" x2="754" y2="2211" stroke="#f0f0f0" stroke-width="7.00"/>
<line x1="674" y1="2270" x2="754" y2="2211" stroke="#f5f5f5" stroke-width="5.60"/>
<line x1="674" y1="2270" x2="754" y2="2211" stroke="#f9f9f9" stroke-width="4.20"/>
<line x1="674" y1="2270" x2="754" y2="2211" stroke="#fbfbfb" stroke-width="2.80"/>
<circle cx="629" cy="2294" r="21" fill="url(#gN)"/>
<circle cx="674" cy="2270" r="21" fill="url(#gN)"/>
<circle cx="754" cy="2211" r="21" fill="url(#gN)"/>
<circle cx="712.5" cy="2020" r="62.5" fill="url(#gM)"/>
<line x1="357.5" y1="1317.5" x2="732.5" y2="1316.5" stroke="#0a0a0a" stroke-width="4" stroke-linecap="square"/>
<line x1="732.5" y1="1316.5" x2="675" y2="1647.5" stroke="#0a0a0a" stroke-width="4" stroke-linecap="square"/>
<line x1="675" y1="1647.5" x2="300" y2="1647.5" stroke="#0a0a0a" stroke-width="4" stroke-linecap="square"/>
<line x1="300" y1="1647.5" x2="357.5" y2="1317.5" stroke="#0a0a0a" stroke-width="4" stroke-linecap="square"/>
<line x1="414" y1="2037" x2="789" y2="2036" stroke="#0a0a0a" stroke-width="4" stroke-linecap="square"/>
<line x1="789" y1="2036" x2="730" y2="2364.5" stroke="#0a0a0a" stroke-width="4" stroke-linecap="square"/>
<line x1="730" y1="2364.5" x2="355" y2="2365" stroke="#0a0a0a" stroke-width="4" stroke-linecap="square"/>
<line x1="355" y1="2365" x2="414" y2="2037" stroke="#0a0a0a" stroke-width="4" stroke-linecap="square"/>
<line x1="357.5" y1="1317.5" x2="414" y2="2037" stroke="#0a0a0a" stroke-width="4" stroke-linecap="square"/>
<line x1="732.5" y1="1316.5" x2="789" y2="2036" stroke="#0a0a0a" stroke-width="4" stroke-linecap="square"/>
<line x1="675" y1="1647.5" x2="730" y2="2364.5" stroke="#0a0a0a" stroke-width="4" stroke-linecap="square"/>
<line x1="300" y1="1647.5" x2="355" y2="2365" stroke="#0a0a0a" stroke-width="4" stroke-linecap="square"/>
<path d="M859,1811.5 L1000,1811.5 L1000,1767.5 L1115,1841.5 L1000,1916 L1000,1872.5 L859,1872.5 Z" fill="#0a0a0a"/>
<text x="889" y="1732.5" font-size="66" text-anchor="start" >60 GPa</text>
<circle cx="931" cy="2276" r="24.2" fill="url(#gL)"/>
<circle cx="931" cy="2354" r="24.4" fill="url(#gNL)"/>
<text x="979.5" y="2297.5" font-size="66" text-anchor="start" >Sr</text>
<text x="979.5" y="2375" font-size="66" text-anchor="start" >N</text>
<text x="272" y="2492.5" font-size="66" text-anchor="start" ><tspan font-style="italic">C</tspan>2/<tspan font-style="italic">c</tspan>-SrN<tspan font-size="44" dy="14">4</tspan><tspan dy="-14">, 0.37 kJ/g</tspan></text>
<line x1="1251.5" y1="1354" x2="1827.5" y2="1342.5" stroke="#0a0a0a" stroke-width="4.5" stroke-linecap="square"/>
<line x1="1251.5" y1="1354" x2="1243.5" y2="1650" stroke="#0a0a0a" stroke-width="4.5" stroke-linecap="square"/>
<line x1="1827.5" y1="1342.5" x2="1817.5" y2="1639" stroke="#0a0a0a" stroke-width="4.5" stroke-linecap="square"/>
<line x1="1251.5" y1="1354" x2="1270" y2="2045" stroke="#0a0a0a" stroke-width="4.5" stroke-linecap="square"/>
<line x1="1827.5" y1="1342.5" x2="1845" y2="2032.5" stroke="#0a0a0a" stroke-width="4.5" stroke-linecap="square"/>
<line x1="1243.5" y1="1650" x2="1261" y2="2339" stroke="#0a0a0a" stroke-width="4.5" stroke-linecap="square"/>
<line x1="1817.5" y1="1639" x2="1837.5" y2="2327.5" stroke="#0a0a0a" stroke-width="4.5" stroke-linecap="square"/>
<line x1="1270" y1="2045" x2="1261" y2="2339" stroke="#0a0a0a" stroke-width="4.5" stroke-linecap="square"/>
<line x1="1845" y1="2032.5" x2="1837.5" y2="2327.5" stroke="#0a0a0a" stroke-width="4.5" stroke-linecap="square"/>
<line x1="1261" y1="2339" x2="1837.5" y2="2327.5" stroke="#0a0a0a" stroke-width="4.5" stroke-linecap="square"/>
<line x1="1241.5" y1="1506.5" x2="1320" y2="1595" stroke="#8c8c8c" stroke-width="18.00"/>
<line x1="1241.5" y1="1506.5" x2="1320" y2="1595" stroke="#b9b9b9" stroke-width="16.20"/>
<line x1="1241.5" y1="1506.5" x2="1320" y2="1595" stroke="#d2d2d2" stroke-width="14.40"/>
<line x1="1241.5" y1="1506.5" x2="1320" y2="1595" stroke="#dedede" stroke-width="12.60"/>
<line x1="1241.5" y1="1506.5" x2="1320" y2="1595" stroke="#eaeaea" stroke-width="10.80"/>
<line x1="1241.5" y1="1506.5" x2="1320" y2="1595" stroke="#f0f0f0" stroke-width="9.00"/>
<line x1="1241.5" y1="1506.5" x2="1320" y2="1595" stroke="#f5f5f5" stroke-width="7.20"/>
<line x1="1241.5" y1="1506.5" x2="1320" y2="1595" stroke="#f9f9f9" stroke-width="5.40"/>
<line x1="1241.5" y1="1506.5" x2="1320" y2="1595" stroke="#fbfbfb" stroke-width="3.60"/>
<line x1="1320" y1="1595" x2="1446.5" y2="1592.5" stroke="#8c8c8c" stroke-width="18.00"/>
<line x1="1320" y1="1595" x2="1446.5" y2="1592.5" stroke="#b9b9b9" stroke-width="16.20"/>
<line x1="1320" y1="1595" x2="1446.5" y2="1592.5" stroke="#d2d2d2" stroke-width="14.40"/>
<line x1="1320" y1="1595" x2="1446.5" y2="1592.5" stroke="#dedede" stroke-width="12.60"/>
<line x1="1320" y1="1595" x2="1446.5" y2="1592.5" stroke="#eaeaea" stroke-width="10.80"/>
<line x1="1320" y1="1595" x2="1446.5" y2="1592.5" stroke="#f0f0f0" stroke-width="9.00"/>
<line x1="1320" y1="1595" x2="1446.5" y2="1592.5" stroke="#f5f5f5" stroke-width="7.20"/>
<line x1="1320" y1="1595" x2="1446.5" y2="1592.5" stroke="#f9f9f9" stroke-width="5.40"/>
<line x1="1320" y1="1595" x2="1446.5" y2="1592.5" stroke="#fbfbfb" stroke-width="3.60"/>
<line x1="1446.5" y1="1592.5" x2="1472.5" y2="1491.5" stroke="#8c8c8c" stroke-width="18.00"/>
<line x1="1446.5" y1="1592.5" x2="1472.5" y2="1491.5" stroke="#b9b9b9" stroke-width="16.20"/>
<line x1="1446.5" y1="1592.5" x2="1472.5" y2="1491.5" stroke="#d2d2d2" stroke-width="14.40"/>
<line x1="1446.5" y1="1592.5" x2="1472.5" y2="1491.5" stroke="#dedede" stroke-width="12.60"/>
<line x1="1446.5" y1="1592.5" x2="1472.5" y2="1491.5" stroke="#eaeaea" stroke-width="10.80"/>
<line x1="1446.5" y1="1592.5" x2="1472.5" y2="1491.5" stroke="#f0f0f0" stroke-width="9.00"/>
<line x1="1446.5" y1="1592.5" x2="1472.5" y2="1491.5" stroke="#f5f5f5" stroke-width="7.20"/>
<line x1="1446.5" y1="1592.5" x2="1472.5" y2="1491.5" stroke="#f9f9f9" stroke-width="5.40"/>
<line x1="1446.5" y1="1592.5" x2="1472.5" y2="1491.5" stroke="#fbfbfb" stroke-width="3.60"/>
<line x1="1472.5" y1="1491.5" x2="1597.5" y2="1501.5" stroke="#8c8c8c" stroke-width="18.00"/>
<line x1="1472.5" y1="1491.5" x2="1597.5" y2="1501.5" stroke="#b9b9b9" stroke-width="16.20"/>
<line x1="1472.5" y1="1491.5" x2="1597.5" y2="1501.5" stroke="#d2d2d2" stroke-width="14.40"/>
<line x1="1472.5" y1="1491.5" x2="1597.5" y2="1501.5" stroke="#dedede" stroke-width="12.60"/>
<line x1="1472.5" y1="1491.5" x2="1597.5" y2="1501.5" stroke="#eaeaea" stroke-width="10.80"/>
<line x1="1472.5" y1="1491.5" x2="1597.5" y2="1501.5" stroke="#f0f0f0" stroke-width="9.00"/>
<line x1="1472.5" y1="1491.5" x2="1597.5" y2="1501.5" stroke="#f5f5f5" stroke-width="7.20"/>
<line x1="1472.5" y1="1491.5" x2="1597.5" y2="1501.5" stroke="#f9f9f9" stroke-width="5.40"/>
<line x1="1472.5" y1="1491.5" x2="1597.5" y2="1501.5" stroke="#fbfbfb" stroke-width="3.60"/>
<line x1="1828.5" y1="1485" x2="1896" y2="1583.5" stroke="#8c8c8c" stroke-width="18.00"/>
<line x1="1828.5" y1="1485" x2="1896" y2="1583.5" stroke="#b9b9b9" stroke-width="16.20"/>
<line x1="1828.5" y1="1485" x2="1896" y2="1583.5" stroke="#d2d2d2" stroke-width="14.40"/>
<line x1="1828.5" y1="1485" x2="1896" y2="1583.5" stroke="#dedede" stroke-width="12.60"/>
<line x1="1828.5" y1="1485" x2="1896" y2="1583.5" stroke="#eaeaea" stroke-width="10.80"/>
<line x1="1828.5" y1="1485" x2="1896" y2="1583.5" stroke="#f0f0f0" stroke-width="9.00"/>
<line x1="1828.5" y1="1485" x2="1896" y2="1583.5" stroke="#f5f5f5" stroke-width="7.20"/>
<line x1="1828.5" y1="1485" x2="1896" y2="1583.5" stroke="#f9f9f9" stroke-width="5.40"/>
<line x1="1828.5" y1="1485" x2="1896" y2="1583.5" stroke="#fbfbfb" stroke-width="3.60"/>
<line x1="1192.5" y1="1854" x2="1320" y2="1838.5" stroke="#8c8c8c" stroke-width="18.00"/>
<line x1="1192.5" y1="1854" x2="1320" y2="1838.5" stroke="#b9b9b9" stroke-width="16.20"/>
<line x1="1192.5" y1="1854" x2="1320" y2="1838.5" stroke="#d2d2d2" stroke-width="14.40"/>
<line x1="1192.5" y1="1854" x2="1320" y2="1838.5" stroke="#dedede" stroke-width="12.60"/>
<line x1="1192.5" y1="1854" x2="1320" y2="1838.5" stroke="#eaeaea" stroke-width="10.80"/>
<line x1="1192.5" y1="1854" x2="1320" y2="1838.5" stroke="#f0f0f0" stroke-width="9.00"/>
<line x1="1192.5" y1="1854" x2="1320" y2="1838.5" stroke="#f5f5f5" stroke-width="7.20"/>
<line x1="1192.5" y1="1854" x2="1320" y2="1838.5" stroke="#f9f9f9" stroke-width="5.40"/>
<line x1="1192.5" y1="1854" x2="1320" y2="1838.5" stroke="#fbfbfb" stroke-width="3.60"/>
<line x1="1320" y1="1838.5" x2="1355" y2="1937.5" stroke="#8c8c8c" stroke-width="18.00"/>
<line x1="1320" y1="1838.5" x2="1355" y2="1937.5" stroke="#b9b9b9" stroke-width="16.20"/>
<line x1="1320" y1="1838.5" x2="1355" y2="1937.5" stroke="#d2d2d2" stroke-width="14.40"/>
<line x1="1320" y1="1838.5" x2="1355" y2="1937.5" stroke="#dedede" stroke-width="12.60"/>
<line x1="1320" y1="1838.5" x2="1355" y2="1937.5" stroke="#eaeaea" stroke-width="10.80"/>
<line x1="1320" y1="1838.5" x2="1355" y2="1937.5" stroke="#f0f0f0" stroke-width="9.00"/>
<line x1="1320" y1="1838.5" x2="1355" y2="1937.5" stroke="#f5f5f5" stroke-width="7.20"/>
<line x1="1320" y1="1838.5" x2="1355" y2="1937.5" stroke="#f9f9f9" stroke-width="5.40"/>
<line x1="1320" y1="1838.5" x2="1355" y2="1937.5" stroke="#fbfbfb" stroke-width="3.60"/>
<line x1="1355" y1="1937.5" x2="1486" y2="1936" stroke="#8c8c8c" stroke-width="18.00"/>
<line x1="1355" y1="1937.5" x2="1486" y2="1936" stroke="#b9b9b9" stroke-width="16.20"/>
<line x1="1355" y1="1937.5" x2="1486" y2="1936" stroke="#d2d2d2" stroke-width="14.40"/>
<line x1="1355" y1="1937.5" x2="1486" y2="1936" stroke="#dedede" stroke-width="12.60"/>
<line x1="1355" y1="1937.5" x2="1486" y2="1936" stroke="#eaeaea" stroke-width="10.80"/>
<line x1="1355" y1="1937.5" x2="1486" y2="1936" stroke="#f0f0f0" stroke-width="9.00"/>
<line x1="1355" y1="1937.5" x2="1486" y2="1936" stroke="#f5f5f5" stroke-width="7.20"/>
<line x1="1355" y1="1937.5" x2="1486" y2="1936" stroke="#f9f9f9" stroke-width="5.40"/>
<line x1="1355" y1="1937.5" x2="1486" y2="1936" stroke="#fbfbfb" stroke-width="3.60"/>
<line x1="1486" y1="1936" x2="1556" y2="1845" stroke="#8c8c8c" stroke-width="18.00"/>
<line x1="1486" y1="1936" x2="1556" y2="1845" stroke="#b9b9b9" stroke-width="16.20"/>
<line x1="1486" y1="1936" x2="1556" y2="1845" stroke="#d2d2d2" stroke-width="14.40"/>
<line x1="1486" y1="1936" x2="1556" y2="1845" stroke="#dedede" stroke-width="12.60"/>
<line x1="1486" y1="1936" x2="1556" y2="1845" stroke="#eaeaea" stroke-width="10.80"/>
<line x1="1486" y1="1936" x2="1556" y2="1845" stroke="#f0f0f0" stroke-width="9.00"/>
<line x1="1486" y1="1936" x2="1556" y2="1845" stroke="#f5f5f5" stroke-width="7.20"/>
<line x1="1486" y1="1936" x2="1556" y2="1845" stroke="#f9f9f9" stroke-width="5.40"/>
<line x1="1486" y1="1936" x2="1556" y2="1845" stroke="#fbfbfb" stroke-width="3.60"/>
<line x1="1532.5" y1="1835" x2="1602.5" y2="1744" stroke="#8c8c8c" stroke-width="18.00"/>
<line x1="1532.5" y1="1835" x2="1602.5" y2="1744" stroke="#b9b9b9" stroke-width="16.20"/>
<line x1="1532.5" y1="1835" x2="1602.5" y2="1744" stroke="#d2d2d2" stroke-width="14.40"/>
<line x1="1532.5" y1="1835" x2="1602.5" y2="1744" stroke="#dedede" stroke-width="12.60"/>
<line x1="1532.5" y1="1835" x2="1602.5" y2="1744" stroke="#eaeaea" stroke-width="10.80"/>
<line x1="1532.5" y1="1835" x2="1602.5" y2="1744" stroke="#f0f0f0" stroke-width="9.00"/>
<line x1="1532.5" y1="1835" x2="1602.5" y2="1744" stroke="#f5f5f5" stroke-width="7.20"/>
<line x1="1532.5" y1="1835" x2="1602.5" y2="1744" stroke="#f9f9f9" stroke-width="5.40"/>
<line x1="1532.5" y1="1835" x2="1602.5" y2="1744" stroke="#fbfbfb" stroke-width="3.60"/>
<line x1="1602.5" y1="1744" x2="1732.5" y2="1742.5" stroke="#8c8c8c" stroke-width="18.00"/>
<line x1="1602.5" y1="1744" x2="1732.5" y2="1742.5" stroke="#b9b9b9" stroke-width="16.20"/>
<line x1="1602.5" y1="1744" x2="1732.5" y2="1742.5" stroke="#d2d2d2" stroke-width="14.40"/>
<line x1="1602.5" y1="1744" x2="1732.5" y2="1742.5" stroke="#dedede" stroke-width="12.60"/>
<line x1="1602.5" y1="1744" x2="1732.5" y2="1742.5" stroke="#eaeaea" stroke-width="10.80"/>
<line x1="1602.5" y1="1744" x2="1732.5" y2="1742.5" stroke="#f0f0f0" stroke-width="9.00"/>
<line x1="1602.5" y1="1744" x2="1732.5" y2="1742.5" stroke="#f5f5f5" stroke-width="7.20"/>
<line x1="1602.5" y1="1744" x2="1732.5" y2="1742.5" stroke="#f9f9f9" stroke-width="5.40"/>
<line x1="1602.5" y1="1744" x2="1732.5" y2="1742.5" stroke="#fbfbfb" stroke-width="3.60"/>
<line x1="1732.5" y1="1742.5" x2="1767.5" y2="1841.5" stroke="#8c8c8c" stroke-width="18.00"/>
<line x1="1732.5" y1="1742.5" x2="1767.5" y2="1841.5" stroke="#b9b9b9" stroke-width="16.20"/>
<line x1="1732.5" y1="1742.5" x2="1767.5" y2="1841.5" stroke="#d2d2d2" stroke-width="14.40"/>
<line x1="1732.5" y1="1742.5" x2="1767.5" y2="1841.5" stroke="#dedede" stroke-width="12.60"/>
<line x1="1732.5" y1="1742.5" x2="1767.5" y2="1841.5" stroke="#eaeaea" stroke-width="10.80"/>
<line x1="1732.5" y1="1742.5" x2="1767.5" y2="1841.5" stroke="#f0f0f0" stroke-width="9.00"/>
<line x1="1732.5" y1="1742.5" x2="1767.5" y2="1841.5" stroke="#f5f5f5" stroke-width="7.20"/>
<line x1="1732.5" y1="1742.5" x2="1767.5" y2="1841.5" stroke="#f9f9f9" stroke-width="5.40"/>
<line x1="1732.5" y1="1742.5" x2="1767.5" y2="1841.5" stroke="#fbfbfb" stroke-width="3.60"/>
<line x1="1767.5" y1="1841.5" x2="1895" y2="1827.5" stroke="#8c8c8c" stroke-width="18.00"/>
<line x1="1767.5" y1="1841.5" x2="1895" y2="1827.5" stroke="#b9b9b9" stroke-width="16.20"/>
<line x1="1767.5" y1="1841.5" x2="1895" y2="1827.5" stroke="#d2d2d2" stroke-width="14.40"/>
<line x1="1767.5" y1="1841.5" x2="1895" y2="1827.5" stroke="#dedede" stroke-width="12.60"/>
<line x1="1767.5" y1="1841.5" x2="1895" y2="1827.5" stroke="#eaeaea" stroke-width="10.80"/>
<line x1="1767.5" y1="1841.5" x2="1895" y2="1827.5" stroke="#f0f0f0" stroke-width="9.00"/>
<line x1="1767.5" y1="1841.5" x2="1895" y2="1827.5" stroke="#f5f5f5" stroke-width="7.20"/>
<line x1="1767.5" y1="1841.5" x2="1895" y2="1827.5" stroke="#f9f9f9" stroke-width="5.40"/>
<line x1="1767.5" y1="1841.5" x2="1895" y2="1827.5" stroke="#fbfbfb" stroke-width="3.60"/>
<line x1="1192.5" y1="2098.5" x2="1270" y2="2187.5" stroke="#8c8c8c" stroke-width="18.00"/>
<line x1="1192.5" y1="2098.5" x2="1270" y2="2187.5" stroke="#b9b9b9" stroke-width="16.20"/>
<line x1="1192.5" y1="2098.5" x2="1270" y2="2187.5" stroke="#d2d2d2" stroke-width="14.40"/>
<line x1="1192.5" y1="2098.5" x2="1270" y2="2187.5" stroke="#dedede" stroke-width="12.60"/>
<line x1="1192.5" y1="2098.5" x2="1270" y2="2187.5" stroke="#eaeaea" stroke-width="10.80"/>
<line x1="1192.5" y1="2098.5" x2="1270" y2="2187.5" stroke="#f0f0f0" stroke-width="9.00"/>
<line x1="1192.5" y1="2098.5" x2="1270" y2="2187.5" stroke="#f5f5f5" stroke-width="7.20"/>
<line x1="1192.5" y1="2098.5" x2="1270" y2="2187.5" stroke="#f9f9f9" stroke-width="5.40"/>
<line x1="1192.5" y1="2098.5" x2="1270" y2="2187.5" stroke="#fbfbfb" stroke-width="3.60"/>
<line x1="1491.5" y1="2180" x2="1615" y2="2190" stroke="#8c8c8c" stroke-width="18.00"/>
<line x1="1491.5" y1="2180" x2="1615" y2="2190" stroke="#b9b9b9" stroke-width="16.20"/>
<line x1="1491.5" y1="2180" x2="1615" y2="2190" stroke="#d2d2d2" stroke-width="14.40"/>
<line x1="1491.5" y1="2180" x2="1615" y2="2190" stroke="#dedede" stroke-width="12.60"/>
<line x1="1491.5" y1="2180" x2="1615" y2="2190" stroke="#eaeaea" stroke-width="10.80"/>
<line x1="1491.5" y1="2180" x2="1615" y2="2190" stroke="#f0f0f0" stroke-width="9.00"/>
<line x1="1491.5" y1="2180" x2="1615" y2="2190" stroke="#f5f5f5" stroke-width="7.20"/>
<line x1="1491.5" y1="2180" x2="1615" y2="2190" stroke="#f9f9f9" stroke-width="5.40"/>
<line x1="1491.5" y1="2180" x2="1615" y2="2190" stroke="#fbfbfb" stroke-width="3.60"/>
<line x1="1615" y1="2190" x2="1641.5" y2="2090" stroke="#8c8c8c" stroke-width="18.00"/>
<line x1="1615" y1="2190" x2="1641.5" y2="2090" stroke="#b9b9b9" stroke-width="16.20"/>
<line x1="1615" y1="2190" x2="1641.5" y2="2090" stroke="#d2d2d2" stroke-width="14.40"/>
<line x1="1615" y1="2190" x2="1641.5" y2="2090" stroke="#dedede" stroke-width="12.60"/>
<line x1="1615" y1="2190" x2="1641.5" y2="2090" stroke="#eaeaea" stroke-width="10.80"/>
<line x1="1615" y1="2190" x2="1641.5" y2="2090" stroke="#f0f0f0" stroke-width="9.00"/>
<line x1="1615" y1="2190" x2="1641.5" y2="2090" stroke="#f5f5f5" stroke-width="7.20"/>
<line x1="1615" y1="2190" x2="1641.5" y2="2090" stroke="#f9f9f9" stroke-width="5.40"/>
<line x1="1615" y1="2190" x2="1641.5" y2="2090" stroke="#fbfbfb" stroke-width="3.60"/>
<line x1="1641.5" y1="2090" x2="1767.5" y2="2086.5" stroke="#8c8c8c" stroke-width="18.00"/>
<line x1="1641.5" y1="2090" x2="1767.5" y2="2086.5" stroke="#b9b9b9" stroke-width="16.20"/>
<line x1="1641.5" y1="2090" x2="1767.5" y2="2086.5" stroke="#d2d2d2" stroke-width="14.40"/>
<line x1="1641.5" y1="2090" x2="1767.5" y2="2086.5" stroke="#dedede" stroke-width="12.60"/>
<line x1="1641.5" y1="2090" x2="1767.5" y2="2086.5" stroke="#eaeaea" stroke-width="10.80"/>
<line x1="1641.5" y1="2090" x2="1767.5" y2="2086.5" stroke="#f0f0f0" stroke-width="9.00"/>
<line x1="1641.5" y1="2090" x2="1767.5" y2="2086.5" stroke="#f5f5f5" stroke-width="7.20"/>
<line x1="1641.5" y1="2090" x2="1767.5" y2="2086.5" stroke="#f9f9f9" stroke-width="5.40"/>
<line x1="1641.5" y1="2090" x2="1767.5" y2="2086.5" stroke="#fbfbfb" stroke-width="3.60"/>
<line x1="1767.5" y1="2086.5" x2="1846.5" y2="2175" stroke="#8c8c8c" stroke-width="18.00"/>
<line x1="1767.5" y1="2086.5" x2="1846.5" y2="2175" stroke="#b9b9b9" stroke-width="16.20"/>
<line x1="1767.5" y1="2086.5" x2="1846.5" y2="2175" stroke="#d2d2d2" stroke-width="14.40"/>
<line x1="1767.5" y1="2086.5" x2="1846.5" y2="2175" stroke="#dedede" stroke-width="12.60"/>
<line x1="1767.5" y1="2086.5" x2="1846.5" y2="2175" stroke="#eaeaea" stroke-width="10.80"/>
<line x1="1767.5" y1="2086.5" x2="1846.5" y2="2175" stroke="#f0f0f0" stroke-width="9.00"/>
<line x1="1767.5" y1="2086.5" x2="1846.5" y2="2175" stroke="#f5f5f5" stroke-width="7.20"/>
<line x1="1767.5" y1="2086.5" x2="1846.5" y2="2175" stroke="#f9f9f9" stroke-width="5.40"/>
<line x1="1767.5" y1="2086.5" x2="1846.5" y2="2175" stroke="#fbfbfb" stroke-width="3.60"/>
<circle cx="1814" cy="1496" r="27" fill="url(#gN)"/>
<circle cx="1828.5" cy="1485" r="27" fill="url(#gN)"/>
<circle cx="1896" cy="1583.5" r="27" fill="url(#gN)"/>
<circle cx="1241.5" cy="1506.5" r="27" fill="url(#gN)"/>
<circle cx="1320" cy="1595" r="27" fill="url(#gN)"/>
<circle cx="1446.5" cy="1592.5" r="27" fill="url(#gN)"/>
<circle cx="1472.5" cy="1491.5" r="27" fill="url(#gN)"/>
<circle cx="1597.5" cy="1501.5" r="27" fill="url(#gN)"/>
<circle cx="1192.5" cy="1854" r="27" fill="url(#gN)"/>
<circle cx="1320" cy="1838.5" r="27" fill="url(#gN)"/>
<circle cx="1355" cy="1937.5" r="27" fill="url(#gN)"/>
<circle cx="1486" cy="1936" r="27" fill="url(#gN)"/>
<circle cx="1556" cy="1845" r="27" fill="url(#gN)"/>
<circle cx="1532.5" cy="1835" r="27" fill="url(#gN)"/>
<circle cx="1602.5" cy="1744" r="27" fill="url(#gN)"/>
<circle cx="1732.5" cy="1742.5" r="27" fill="url(#gN)"/>
<circle cx="1767.5" cy="1841.5" r="27" fill="url(#gN)"/>
<circle cx="1895" cy="1827.5" r="27" fill="url(#gN)"/>
<circle cx="1192.5" cy="2098.5" r="27" fill="url(#gN)"/>
<circle cx="1259" cy="2197.5" r="27" fill="url(#gN)"/>
<circle cx="1270" cy="2187.5" r="27" fill="url(#gN)"/>
<circle cx="1491.5" cy="2180" r="27" fill="url(#gN)"/>
<circle cx="1615" cy="2190" r="27" fill="url(#gN)"/>
<circle cx="1641.5" cy="2090" r="27" fill="url(#gN)"/>
<circle cx="1767.5" cy="2086.5" r="27" fill="url(#gN)"/>
<circle cx="1846.5" cy="2175" r="27" fill="url(#gN)"/>
<circle cx="1677.5" cy="1648.5" r="82.5" fill="url(#gMg)"/>
<line x1="1243.5" y1="1650" x2="1817.5" y2="1639" stroke="#0a0a0a" stroke-width="4.5" stroke-linecap="square"/>
<circle cx="1378.5" cy="1690" r="82.5" fill="url(#gM)"/>
<line x1="1270" y1="2045" x2="1845" y2="2032.5" stroke="#0a0a0a" stroke-width="4.5" stroke-linecap="square"/>
<circle cx="1411" cy="2033" r="82.5" fill="url(#gM)"/>
<circle cx="1710" cy="1991.5" r="82.5" fill="url(#gMg)"/>
<text x="1260.5" y="2492.5" font-size="66" text-anchor="start" ><tspan font-style="italic">P</tspan>2<tspan font-size="44" dy="14">1</tspan><tspan dy="-14">/</tspan><tspan font-style="italic">c</tspan>-SrN<tspan font-size="44" dy="14">4</tspan><tspan dy="-14">, 0.75 kJ/g</tspan></text>
<line x1="2176" y1="1474" x2="2261" y2="1474" stroke="#8c8c8c" stroke-width="13.00"/>
<line x1="2176" y1="1474" x2="2261" y2="1474" stroke="#b9b9b9" stroke-width="11.70"/>
<line x1="2176" y1="1474" x2="2261" y2="1474" stroke="#d2d2d2" stroke-width="10.40"/>
<line x1="2176" y1="1474" x2="2261" y2="1474" stroke="#dedede" stroke-width="9.10"/>
<line x1="2176" y1="1474" x2="2261" y2="1474" stroke="#eaeaea" stroke-width="7.80"/>
<line x1="2176" y1="1474" x2="2261" y2="1474" stroke="#f0f0f0" stroke-width="6.50"/>
<line x1="2176" y1="1474" x2="2261" y2="1474" stroke="#f5f5f5" stroke-width="5.20"/>
<line x1="2176" y1="1474" x2="2261" y2="1474" stroke="#f9f9f9" stroke-width="3.90"/>
<line x1="2176" y1="1474" x2="2261" y2="1474" stroke="#fbfbfb" stroke-width="2.60"/>
<line x1="2261" y1="1474" x2="2276.5" y2="1424" stroke="#6e6e6e" stroke-width="13.00"/>
<line x1="2261" y1="1474" x2="2276.5" y2="1424" stroke="#808080" stroke-width="9.10"/>
<line x1="2261" y1="1474" x2="2276.5" y2="1424" stroke="#949494" stroke-width="4.55"/>
<line x1="2276.5" y1="1424" x2="2360" y2="1425" stroke="#8c8c8c" stroke-width="13.00"/>
<line x1="2276.5" y1="1424" x2="2360" y2="1425" stroke="#b9b9b9" stroke-width="11.70"/>
<line x1="2276.5" y1="1424" x2="2360" y2="1425" stroke="#d2d2d2" stroke-width="10.40"/>
<line x1="2276.5" y1="1424" x2="2360" y2="1425" stroke="#dedede" stroke-width="9.10"/>
<line x1="2276.5" y1="1424" x2="2360" y2="1425" stroke="#eaeaea" stroke-width="7.80"/>
<line x1="2276.5" y1="1424" x2="2360" y2="1425" stroke="#f0f0f0" stroke-width="6.50"/>
<line x1="2276.5" y1="1424" x2="2360" y2="1425" stroke="#f5f5f5" stroke-width="5.20"/>
<line x1="2276.5" y1="1424" x2="2360" y2="1425" stroke="#f9f9f9" stroke-width="3.90"/>
<line x1="2276.5" y1="1424" x2="2360" y2="1425" stroke="#fbfbfb" stroke-width="2.60"/>
<line x1="2360" y1="1425" x2="2409" y2="1476.5" stroke="#8c8c8c" stroke-width="13.00"/>
<line x1="2360" y1="1425" x2="2409" y2="1476.5" stroke="#b9b9b9" stroke-width="11.70"/>
<line x1="2360" y1="1425" x2="2409" y2="1476.5" stroke="#d2d2d2" stroke-width="10.40"/>
<line x1="2360" y1="1425" x2="2409" y2="1476.5" stroke="#dedede" stroke-width="9.10"/>
<line x1="2360" y1="1425" x2="2409" y2="1476.5" stroke="#eaeaea" stroke-width="7.80"/>
<line x1="2360" y1="1425" x2="2409" y2="1476.5" stroke="#f0f0f0" stroke-width="6.50"/>
<line x1="2360" y1="1425" x2="2409" y2="1476.5" stroke="#f5f5f5" stroke-width="5.20"/>
<line x1="2360" y1="1425" x2="2409" y2="1476.5" stroke="#f9f9f9" stroke-width="3.90"/>
<line x1="2360" y1="1425" x2="2409" y2="1476.5" stroke="#fbfbfb" stroke-width="2.60"/>
<line x1="2409" y1="1476.5" x2="2494" y2="1476.5" stroke="#8c8c8c" stroke-width="13.00"/>
<line x1="2409" y1="1476.5" x2="2494" y2="1476.5" stroke="#b9b9b9" stroke-width="11.70"/>
<line x1="2409" y1="1476.5" x2="2494" y2="1476.5" stroke="#d2d2d2" stroke-width="10.40"/>
<line x1="2409" y1="1476.5" x2="2494" y2="1476.5" stroke="#dedede" stroke-width="9.10"/>
<line x1="2409" y1="1476.5" x2="2494" y2="1476.5" stroke="#eaeaea" stroke-width="7.80"/>
<line x1="2409" y1="1476.5" x2="2494" y2="1476.5" stroke="#f0f0f0" stroke-width="6.50"/>
<line x1="2409" y1="1476.5" x2="2494" y2="1476.5" stroke="#f5f5f5" stroke-width="5.20"/>
<line x1="2409" y1="1476.5" x2="2494" y2="1476.5" stroke="#f9f9f9" stroke-width="3.90"/>
<line x1="2409" y1="1476.5" x2="2494" y2="1476.5" stroke="#fbfbfb" stroke-width="2.60"/>
<line x1="2494" y1="1476.5" x2="2509" y2="1425" stroke="#6e6e6e" stroke-width="13.00"/>
<line x1="2494" y1="1476.5" x2="2509" y2="1425" stroke="#808080" stroke-width="9.10"/>
<line x1="2494" y1="1476.5" x2="2509" y2="1425" stroke="#949494" stroke-width="4.55"/>
<line x1="2509" y1="1425" x2="2594" y2="1426" stroke="#8c8c8c" stroke-width="13.00"/>
<line x1="2509" y1="1425" x2="2594" y2="1426" stroke="#b9b9b9" stroke-width="11.70"/>
<line x1="2509" y1="1425" x2="2594" y2="1426" stroke="#d2d2d2" stroke-width="10.40"/>
<line x1="2509" y1="1425" x2="2594" y2="1426" stroke="#dedede" stroke-width="9.10"/>
<line x1="2509" y1="1425" x2="2594" y2="1426" stroke="#eaeaea" stroke-width="7.80"/>
<line x1="2509" y1="1425" x2="2594" y2="1426" stroke="#f0f0f0" stroke-width="6.50"/>
<line x1="2509" y1="1425" x2="2594" y2="1426" stroke="#f5f5f5" stroke-width="5.20"/>
<line x1="2509" y1="1425" x2="2594" y2="1426" stroke="#f9f9f9" stroke-width="3.90"/>
<line x1="2509" y1="1425" x2="2594" y2="1426" stroke="#fbfbfb" stroke-width="2.60"/>
<line x1="2594" y1="1426" x2="2641" y2="1477.5" stroke="#8c8c8c" stroke-width="13.00"/>
<line x1="2594" y1="1426" x2="2641" y2="1477.5" stroke="#b9b9b9" stroke-width="11.70"/>
<line x1="2594" y1="1426" x2="2641" y2="1477.5" stroke="#d2d2d2" stroke-width="10.40"/>
<line x1="2594" y1="1426" x2="2641" y2="1477.5" stroke="#dedede" stroke-width="9.10"/>
<line x1="2594" y1="1426" x2="2641" y2="1477.5" stroke="#eaeaea" stroke-width="7.80"/>
<line x1="2594" y1="1426" x2="2641" y2="1477.5" stroke="#f0f0f0" stroke-width="6.50"/>
<line x1="2594" y1="1426" x2="2641" y2="1477.5" stroke="#f5f5f5" stroke-width="5.20"/>
<line x1="2594" y1="1426" x2="2641" y2="1477.5" stroke="#f9f9f9" stroke-width="3.90"/>
<line x1="2594" y1="1426" x2="2641" y2="1477.5" stroke="#fbfbfb" stroke-width="2.60"/>
<line x1="2167.5" y1="1992.5" x2="2210" y2="1920" stroke="#8c8c8c" stroke-width="13.00"/>
<line x1="2167.5" y1="1992.5" x2="2210" y2="1920" stroke="#b9b9b9" stroke-width="11.70"/>
<line x1="2167.5" y1="1992.5" x2="2210" y2="1920" stroke="#d2d2d2" stroke-width="10.40"/>
<line x1="2167.5" y1="1992.5" x2="2210" y2="1920" stroke="#dedede" stroke-width="9.10"/>
<line x1="2167.5" y1="1992.5" x2="2210" y2="1920" stroke="#eaeaea" stroke-width="7.80"/>
<line x1="2167.5" y1="1992.5" x2="2210" y2="1920" stroke="#f0f0f0" stroke-width="6.50"/>
<line x1="2167.5" y1="1992.5" x2="2210" y2="1920" stroke="#f5f5f5" stroke-width="5.20"/>
<line x1="2167.5" y1="1992.5" x2="2210" y2="1920" stroke="#f9f9f9" stroke-width="3.90"/>
<line x1="2167.5" y1="1992.5" x2="2210" y2="1920" stroke="#fbfbfb" stroke-width="2.60"/>
<line x1="2210" y1="1920" x2="2292.5" y2="1922.5" stroke="#8c8c8c" stroke-width="13.00"/>
<line x1="2210" y1="1920" x2="2292.5" y2="1922.5" stroke="#b9b9b9" stroke-width="11.70"/>
<line x1="2210" y1="1920" x2="2292.5" y2="1922.5" stroke="#d2d2d2" stroke-width="10.40"/>
<line x1="2210" y1="1920" x2="2292.5" y2="1922.5" stroke="#dedede" stroke-width="9.10"/>
<line x1="2210" y1="1920" x2="2292.5" y2="1922.5" stroke="#eaeaea" stroke-width="7.80"/>
<line x1="2210" y1="1920" x2="2292.5" y2="1922.5" stroke="#f0f0f0" stroke-width="6.50"/>
<line x1="2210" y1="1920" x2="2292.5" y2="1922.5" stroke="#f5f5f5" stroke-width="5.20"/>
<line x1="2210" y1="1920" x2="2292.5" y2="1922.5" stroke="#f9f9f9" stroke-width="3.90"/>
<line x1="2210" y1="1920" x2="2292.5" y2="1922.5" stroke="#fbfbfb" stroke-width="2.60"/>
<line x1="2292.5" y1="1922.5" x2="2316" y2="1992.5" stroke="#8c8c8c" stroke-width="13.00"/>
<line x1="2292.5" y1="1922.5" x2="2316" y2="1992.5" stroke="#b9b9b9" stroke-width="11.70"/>
<line x1="2292.5" y1="1922.5" x2="2316" y2="1992.5" stroke="#d2d2d2" stroke-width="10.40"/>
<line x1="2292.5" y1="1922.5" x2="2316" y2="1992.5" stroke="#dedede" stroke-width="9.10"/>
<line x1="2292.5" y1="1922.5" x2="2316" y2="1992.5" stroke="#eaeaea" stroke-width="7.80"/>
<line x1="2292.5" y1="1922.5" x2="2316" y2="1992.5" stroke="#f0f0f0" stroke-width="6.50"/>
<line x1="2292.5" y1="1922.5" x2="2316" y2="1992.5" stroke="#f5f5f5" stroke-width="5.20"/>
<line x1="2292.5" y1="1922.5" x2="2316" y2="1992.5" stroke="#f9f9f9" stroke-width="3.90"/>
<line x1="2292.5" y1="1922.5" x2="2316" y2="1992.5" stroke="#fbfbfb" stroke-width="2.60"/>
<line x1="2316" y1="1992.5" x2="2400" y2="1992.5" stroke="#8c8c8c" stroke-width="13.00"/>
<line x1="2316" y1="1992.5" x2="2400" y2="1992.5" stroke="#b9b9b9" stroke-width="11.70"/>
<line x1="2316" y1="1992.5" x2="2400" y2="1992.5" stroke="#d2d2d2" stroke-width="10.40"/>
<line x1="2316" y1="1992.5" x2="2400" y2="1992.5" stroke="#dedede" stroke-width="9.10"/>
<line x1="2316" y1="1992.5" x2="2400" y2="1992.5" stroke="#eaeaea" stroke-width="7.80"/>
<line x1="2316" y1="1992.5" x2="2400" y2="1992.5" stroke="#f0f0f0" stroke-width="6.50"/>
<line x1="2316" y1="1992.5" x2="2400" y2="1992.5" stroke="#f5f5f5" stroke-width="5.20"/>
<line x1="2316" y1="1992.5" x2="2400" y2="1992.5" stroke="#f9f9f9" stroke-width="3.90"/>
<line x1="2316" y1="1992.5" x2="2400" y2="1992.5" stroke="#fbfbfb" stroke-width="2.60"/>
<line x1="2400" y1="1992.5" x2="2441.5" y2="1922.5" stroke="#8c8c8c" stroke-width="13.00"/>
<line x1="2400" y1="1992.5" x2="2441.5" y2="1922.5" stroke="#b9b9b9" stroke-width="11.70"/>
<line x1="2400" y1="1992.5" x2="2441.5" y2="1922.5" stroke="#d2d2d2" stroke-width="10.40"/>
<line x1="2400" y1="1992.5" x2="2441.5" y2="1922.5" stroke="#dedede" stroke-width="9.10"/>
<line x1="2400" y1="1992.5" x2="2441.5" y2="1922.5" stroke="#eaeaea" stroke-width="7.80"/>
<line x1="2400" y1="1992.5" x2="2441.5" y2="1922.5" stroke="#f0f0f0" stroke-width="6.50"/>
<line x1="2400" y1="1992.5" x2="2441.5" y2="1922.5" stroke="#f5f5f5" stroke-width="5.20"/>
<line x1="2400" y1="1992.5" x2="2441.5" y2="1922.5" stroke="#f9f9f9" stroke-width="3.90"/>
<line x1="2400" y1="1992.5" x2="2441.5" y2="1922.5" stroke="#fbfbfb" stroke-width="2.60"/>
<line x1="2441.5" y1="1922.5" x2="2525" y2="1924" stroke="#8c8c8c" stroke-width="13.00"/>
<line x1="2441.5" y1="1922.5" x2="2525" y2="1924" stroke="#b9b9b9" stroke-width="11.70"/>
<line x1="2441.5" y1="1922.5" x2="2525" y2="1924" stroke="#d2d2d2" stroke-width="10.40"/>
<line x1="2441.5" y1="1922.5" x2="2525" y2="1924" stroke="#dedede" stroke-width="9.10"/>
<line x1="2441.5" y1="1922.5" x2="2525" y2="1924" stroke="#eaeaea" stroke-width="7.80"/>
<line x1="2441.5" y1="1922.5" x2="2525" y2="1924" stroke="#f0f0f0" stroke-width="6.50"/>
<line x1="2441.5" y1="1922.5" x2="2525" y2="1924" stroke="#f5f5f5" stroke-width="5.20"/>
<line x1="2441.5" y1="1922.5" x2="2525" y2="1924" stroke="#f9f9f9" stroke-width="3.90"/>
<line x1="2441.5" y1="1922.5" x2="2525" y2="1924" stroke="#fbfbfb" stroke-width="2.60"/>
<line x1="2525" y1="1924" x2="2547.5" y2="1994" stroke="#8c8c8c" stroke-width="13.00"/>
<line x1="2525" y1="1924" x2="2547.5" y2="1994" stroke="#b9b9b9" stroke-width="11.70"/>
<line x1="2525" y1="1924" x2="2547.5" y2="1994" stroke="#d2d2d2" stroke-width="10.40"/>
<line x1="2525" y1="1924" x2="2547.5" y2="1994" stroke="#dedede" stroke-width="9.10"/>
<line x1="2525" y1="1924" x2="2547.5" y2="1994" stroke="#eaeaea" stroke-width="7.80"/>
<line x1="2525" y1="1924" x2="2547.5" y2="1994" stroke="#f0f0f0" stroke-width="6.50"/>
<line x1="2525" y1="1924" x2="2547.5" y2="1994" stroke="#f5f5f5" stroke-width="5.20"/>
<line x1="2525" y1="1924" x2="2547.5" y2="1994" stroke="#f9f9f9" stroke-width="3.90"/>
<line x1="2525" y1="1924" x2="2547.5" y2="1994" stroke="#fbfbfb" stroke-width="2.60"/>
<line x1="2547.5" y1="1994" x2="2631" y2="1995" stroke="#8c8c8c" stroke-width="13.00"/>
<line x1="2547.5" y1="1994" x2="2631" y2="1995" stroke="#b9b9b9" stroke-width="11.70"/>
<line x1="2547.5" y1="1994" x2="2631" y2="1995" stroke="#d2d2d2" stroke-width="10.40"/>
<line x1="2547.5" y1="1994" x2="2631" y2="1995" stroke="#dedede" stroke-width="9.10"/>
<line x1="2547.5" y1="1994" x2="2631" y2="1995" stroke="#eaeaea" stroke-width="7.80"/>
<line x1="2547.5" y1="1994" x2="2631" y2="1995" stroke="#f0f0f0" stroke-width="6.50"/>
<line x1="2547.5" y1="1994" x2="2631" y2="1995" stroke="#f5f5f5" stroke-width="5.20"/>
<line x1="2547.5" y1="1994" x2="2631" y2="1995" stroke="#f9f9f9" stroke-width="3.90"/>
<line x1="2547.5" y1="1994" x2="2631" y2="1995" stroke="#fbfbfb" stroke-width="2.60"/>
<circle cx="2176" cy="1474" r="18.5" fill="url(#gN)"/>
<circle cx="2261" cy="1474" r="18.5" fill="url(#gN)"/>
<circle cx="2276.5" cy="1424" r="18.5" fill="url(#gN)"/>
<circle cx="2360" cy="1425" r="18.5" fill="url(#gN)"/>
<circle cx="2409" cy="1476.5" r="18.5" fill="url(#gN)"/>
<circle cx="2494" cy="1476.5" r="18.5" fill="url(#gN)"/>
<circle cx="2509" cy="1425" r="18.5" fill="url(#gN)"/>
<circle cx="2594" cy="1426" r="18.5" fill="url(#gN)"/>
<circle cx="2641" cy="1477.5" r="18.5" fill="url(#gN)"/>
<circle cx="2167.5" cy="1992.5" r="18.5" fill="url(#gN)"/>
<circle cx="2210" cy="1920" r="18.5" fill="url(#gN)"/>
<circle cx="2292.5" cy="1922.5" r="18.5" fill="url(#gN)"/>
<circle cx="2316" cy="1992.5" r="18.5" fill="url(#gN)"/>
<circle cx="2400" cy="1992.5" r="18.5" fill="url(#gN)"/>
<circle cx="2441.5" cy="1922.5" r="18.5" fill="url(#gN)"/>
<circle cx="2525" cy="1924" r="18.5" fill="url(#gN)"/>
<circle cx="2547.5" cy="1994" r="18.5" fill="url(#gN)"/>
<circle cx="2631" cy="1995" r="18.5" fill="url(#gN)"/>
<line x1="2212.5" y1="1665" x2="2232.5" y2="1650" stroke="#6e6e6e" stroke-width="13.00"/>
<line x1="2212.5" y1="1665" x2="2232.5" y2="1650" stroke="#808080" stroke-width="9.10"/>
<line x1="2212.5" y1="1665" x2="2232.5" y2="1650" stroke="#949494" stroke-width="4.55"/>
<line x1="2237.5" y1="1747.5" x2="2257.5" y2="1732.5" stroke="#6e6e6e" stroke-width="13.00"/>
<line x1="2237.5" y1="1747.5" x2="2257.5" y2="1732.5" stroke="#808080" stroke-width="9.10"/>
<line x1="2237.5" y1="1747.5" x2="2257.5" y2="1732.5" stroke="#949494" stroke-width="4.55"/>
<line x1="2212.5" y1="1665" x2="2257.5" y2="1732.5" stroke="#8c8c8c" stroke-width="13.00"/>
<line x1="2212.5" y1="1665" x2="2257.5" y2="1732.5" stroke="#b9b9b9" stroke-width="11.70"/>
<line x1="2212.5" y1="1665" x2="2257.5" y2="1732.5" stroke="#d2d2d2" stroke-width="10.40"/>
<line x1="2212.5" y1="1665" x2="2257.5" y2="1732.5" stroke="#dedede" stroke-width="9.10"/>
<line x1="2212.5" y1="1665" x2="2257.5" y2="1732.5" stroke="#eaeaea" stroke-width="7.80"/>
<line x1="2212.5" y1="1665" x2="2257.5" y2="1732.5" stroke="#f0f0f0" stroke-width="6.50"/>
<line x1="2212.5" y1="1665" x2="2257.5" y2="1732.5" stroke="#f5f5f5" stroke-width="5.20"/>
<line x1="2212.5" y1="1665" x2="2257.5" y2="1732.5" stroke="#f9f9f9" stroke-width="3.90"/>
<line x1="2212.5" y1="1665" x2="2257.5" y2="1732.5" stroke="#fbfbfb" stroke-width="2.60"/>
<line x1="2174" y1="1694" x2="2237.5" y2="1747.5" stroke="#8c8c8c" stroke-width="13.00"/>
<line x1="2174" y1="1694" x2="2237.5" y2="1747.5" stroke="#b9b9b9" stroke-width="11.70"/>
<line x1="2174" y1="1694" x2="2237.5" y2="1747.5" stroke="#d2d2d2" stroke-width="10.40"/>
<line x1="2174" y1="1694" x2="2237.5" y2="1747.5" stroke="#dedede" stroke-width="9.10"/>
<line x1="2174" y1="1694" x2="2237.5" y2="1747.5" stroke="#eaeaea" stroke-width="7.80"/>
<line x1="2174" y1="1694" x2="2237.5" y2="1747.5" stroke="#f0f0f0" stroke-width="6.50"/>
<line x1="2174" y1="1694" x2="2237.5" y2="1747.5" stroke="#f5f5f5" stroke-width="5.20"/>
<line x1="2174" y1="1694" x2="2237.5" y2="1747.5" stroke="#f9f9f9" stroke-width="3.90"/>
<line x1="2174" y1="1694" x2="2237.5" y2="1747.5" stroke="#fbfbfb" stroke-width="2.60"/>
<circle cx="2232.5" cy="1650" r="18.5" fill="url(#gN)"/>
<circle cx="2257.5" cy="1732.5" r="18.5" fill="url(#gN)"/>
<circle cx="2212.5" cy="1665" r="18.5" fill="url(#gN)"/>
<circle cx="2174" cy="1694" r="18.5" fill="url(#gN)"/>
<circle cx="2237.5" cy="1747.5" r="18.5" fill="url(#gN)"/>
<line x1="2445.0" y1="1665" x2="2465.0" y2="1650" stroke="#6e6e6e" stroke-width="13.00"/>
<line x1="2445.0" y1="1665" x2="2465.0" y2="1650" stroke="#808080" stroke-width="9.10"/>
<line x1="2445.0" y1="1665" x2="2465.0" y2="1650" stroke="#949494" stroke-width="4.55"/>
<line x1="2470.0" y1="1747.5" x2="2490.0" y2="1732.5" stroke="#6e6e6e" stroke-width="13.00"/>
<line x1="2470.0" y1="1747.5" x2="2490.0" y2="1732.5" stroke="#808080" stroke-width="9.10"/>
<line x1="2470.0" y1="1747.5" x2="2490.0" y2="1732.5" stroke="#949494" stroke-width="4.55"/>
<line x1="2445.0" y1="1665" x2="2490.0" y2="1732.5" stroke="#8c8c8c" stroke-width="13.00"/>
<line x1="2445.0" y1="1665" x2="2490.0" y2="1732.5" stroke="#b9b9b9" stroke-width="11.70"/>
<line x1="2445.0" y1="1665" x2="2490.0" y2="1732.5" stroke="#d2d2d2" stroke-width="10.40"/>
<line x1="2445.0" y1="1665" x2="2490.0" y2="1732.5" stroke="#dedede" stroke-width="9.10"/>
<line x1="2445.0" y1="1665" x2="2490.0" y2="1732.5" stroke="#eaeaea" stroke-width="7.80"/>
<line x1="2445.0" y1="1665" x2="2490.0" y2="1732.5" stroke="#f0f0f0" stroke-width="6.50"/>
<line x1="2445.0" y1="1665" x2="2490.0" y2="1732.5" stroke="#f5f5f5" stroke-width="5.20"/>
<line x1="2445.0" y1="1665" x2="2490.0" y2="1732.5" stroke="#f9f9f9" stroke-width="3.90"/>
<line x1="2445.0" y1="1665" x2="2490.0" y2="1732.5" stroke="#fbfbfb" stroke-width="2.60"/>
<line x1="2406.5" y1="1694" x2="2470.0" y2="1747.5" stroke="#8c8c8c" stroke-width="13.00"/>
<line x1="2406.5" y1="1694" x2="2470.0" y2="1747.5" stroke="#b9b9b9" stroke-width="11.70"/>
<line x1="2406.5" y1="1694" x2="2470.0" y2="1747.5" stroke="#d2d2d2" stroke-width="10.40"/>
<line x1="2406.5" y1="1694" x2="2470.0" y2="1747.5" stroke="#dedede" stroke-width="9.10"/>
<line x1="2406.5" y1="1694" x2="2470.0" y2="1747.5" stroke="#eaeaea" stroke-width="7.80"/>
<line x1="2406.5" y1="1694" x2="2470.0" y2="1747.5" stroke="#f0f0f0" stroke-width="6.50"/>
<line x1="2406.5" y1="1694" x2="2470.0" y2="1747.5" stroke="#f5f5f5" stroke-width="5.20"/>
<line x1="2406.5" y1="1694" x2="2470.0" y2="1747.5" stroke="#f9f9f9" stroke-width="3.90"/>
<line x1="2406.5" y1="1694" x2="2470.0" y2="1747.5" stroke="#fbfbfb" stroke-width="2.60"/>
<circle cx="2465.0" cy="1650" r="18.5" fill="url(#gN)"/>
<circle cx="2490.0" cy="1732.5" r="18.5" fill="url(#gN)"/>
<circle cx="2445.0" cy="1665" r="18.5" fill="url(#gN)"/>
<circle cx="2406.5" cy="1694" r="18.5" fill="url(#gN)"/>
<circle cx="2470.0" cy="1747.5" r="18.5" fill="url(#gN)"/>
<circle cx="2361" cy="2213" r="18.5" fill="url(#gN)"/>
<line x1="2414.5" y1="2144" x2="2361" y2="2213" stroke="#8c8c8c" stroke-width="12.00"/>
<line x1="2414.5" y1="2144" x2="2361" y2="2213" stroke="#b9b9b9" stroke-width="10.80"/>
<line x1="2414.5" y1="2144" x2="2361" y2="2213" stroke="#d2d2d2" stroke-width="9.60"/>
<line x1="2414.5" y1="2144" x2="2361" y2="2213" stroke="#dedede" stroke-width="8.40"/>
<line x1="2414.5" y1="2144" x2="2361" y2="2213" stroke="#eaeaea" stroke-width="7.20"/>
<line x1="2414.5" y1="2144" x2="2361" y2="2213" stroke="#f0f0f0" stroke-width="6.00"/>
<line x1="2414.5" y1="2144" x2="2361" y2="2213" stroke="#f5f5f5" stroke-width="4.80"/>
<line x1="2414.5" y1="2144" x2="2361" y2="2213" stroke="#f9f9f9" stroke-width="3.60"/>
<line x1="2414.5" y1="2144" x2="2361" y2="2213" stroke="#fbfbfb" stroke-width="2.40"/>
<circle cx="2378" cy="2170.5" r="18.5" fill="url(#gN)"/>
<line x1="2355.6" y1="2186" x2="2378" y2="2170.5" stroke="#6e6e6e" stroke-width="12.00"/>
<line x1="2355.6" y1="2186" x2="2378" y2="2170.5" stroke="#808080" stroke-width="8.40"/>
<line x1="2355.6" y1="2186" x2="2378" y2="2170.5" stroke="#949494" stroke-width="4.20"/>
<line x1="2355.6" y1="2186" x2="2336.5" y2="2225.3" stroke="#8c8c8c" stroke-width="12.00"/>
<line x1="2355.6" y1="2186" x2="2336.5" y2="2225.3" stroke="#b9b9b9" stroke-width="10.80"/>
<line x1="2355.6" y1="2186" x2="2336.5" y2="2225.3" stroke="#d2d2d2" stroke-width="9.60"/>
<line x1="2355.6" y1="2186" x2="2336.5" y2="2225.3" stroke="#dedede" stroke-width="8.40"/>
<line x1="2355.6" y1="2186" x2="2336.5" y2="2225.3" stroke="#eaeaea" stroke-width="7.20"/>
<line x1="2355.6" y1="2186" x2="2336.5" y2="2225.3" stroke="#f0f0f0" stroke-width="6.00"/>
<line x1="2355.6" y1="2186" x2="2336.5" y2="2225.3" stroke="#f5f5f5" stroke-width="4.80"/>
<line x1="2355.6" y1="2186" x2="2336.5" y2="2225.3" stroke="#f9f9f9" stroke-width="3.60"/>
<line x1="2355.6" y1="2186" x2="2336.5" y2="2225.3" stroke="#fbfbfb" stroke-width="2.40"/>
<line x1="2336.5" y1="2225.3" x2="2361" y2="2213" stroke="#6e6e6e" stroke-width="12.00"/>
<line x1="2336.5" y1="2225.3" x2="2361" y2="2213" stroke="#808080" stroke-width="8.40"/>
<line x1="2336.5" y1="2225.3" x2="2361" y2="2213" stroke="#949494" stroke-width="4.20"/>
<circle cx="2355.6" cy="2186" r="18.5" fill="url(#gN)"/>
<circle cx="2336.5" cy="2225.3" r="18.5" fill="url(#gN)"/>
<circle cx="2414.5" cy="2144" r="18.5" fill="url(#gN)"/>
<circle cx="2593.5" cy="2213" r="18.5" fill="url(#gN)"/>
<line x1="2647.0" y1="2144" x2="2593.5" y2="2213" stroke="#8c8c8c" stroke-width="12.00"/>
<line x1="2647.0" y1="2144" x2="2593.5" y2="2213" stroke="#b9b9b9" stroke-width="10.80"/>
<line x1="2647.0" y1="2144" x2="2593.5" y2="2213" stroke="#d2d2d2" stroke-width="9.60"/>
<line x1="2647.0" y1="2144" x2="2593.5" y2="2213" stroke="#dedede" stroke-width="8.40"/>
<line x1="2647.0" y1="2144" x2="2593.5" y2="2213" stroke="#eaeaea" stroke-width="7.20"/>
<line x1="2647.0" y1="2144" x2="2593.5" y2="2213" stroke="#f0f0f0" stroke-width="6.00"/>
<line x1="2647.0" y1="2144" x2="2593.5" y2="2213" stroke="#f5f5f5" stroke-width="4.80"/>
<line x1="2647.0" y1="2144" x2="2593.5" y2="2213" stroke="#f9f9f9" stroke-width="3.60"/>
<line x1="2647.0" y1="2144" x2="2593.5" y2="2213" stroke="#fbfbfb" stroke-width="2.40"/>
<circle cx="2610.5" cy="2170.5" r="18.5" fill="url(#gN)"/>
<line x1="2588.1" y1="2186" x2="2610.5" y2="2170.5" stroke="#6e6e6e" stroke-width="12.00"/>
<line x1="2588.1" y1="2186" x2="2610.5" y2="2170.5" stroke="#808080" stroke-width="8.40"/>
<line x1="2588.1" y1="2186" x2="2610.5" y2="2170.5" stroke="#949494" stroke-width="4.20"/>
<line x1="2588.1" y1="2186" x2="2569.0" y2="2225.3" stroke="#8c8c8c" stroke-width="12.00"/>
<line x1="2588.1" y1="2186" x2="2569.0" y2="2225.3" stroke="#b9b9b9" stroke-width="10.80"/>
<line x1="2588.1" y1="2186" x2="2569.0" y2="2225.3" stroke="#d2d2d2" stroke-width="9.60"/>
<line x1="2588.1" y1="2186" x2="2569.0" y2="2225.3" stroke="#dedede" stroke-width="8.40"/>
<line x1="2588.1" y1="2186" x2="2569.0" y2="2225.3" stroke="#eaeaea" stroke-width="7.20"/>
<line x1="2588.1" y1="2186" x2="2569.0" y2="2225.3" stroke="#f0f0f0" stroke-width="6.00"/>
<line x1="2588.1" y1="2186" x2="2569.0" y2="2225.3" stroke="#f5f5f5" stroke-width="4.80"/>
<line x1="2588.1" y1="2186" x2="2569.0" y2="2225.3" stroke="#f9f9f9" stroke-width="3.60"/>
<line x1="2588.1" y1="2186" x2="2569.0" y2="2225.3" stroke="#fbfbfb" stroke-width="2.40"/>
<line x1="2569.0" y1="2225.3" x2="2593.5" y2="2213" stroke="#6e6e6e" stroke-width="12.00"/>
<line x1="2569.0" y1="2225.3" x2="2593.5" y2="2213" stroke="#808080" stroke-width="8.40"/>
<line x1="2569.0" y1="2225.3" x2="2593.5" y2="2213" stroke="#949494" stroke-width="4.20"/>
<circle cx="2588.1" cy="2186" r="18.5" fill="url(#gN)"/>
<circle cx="2569.0" cy="2225.3" r="18.5" fill="url(#gN)"/>
<circle cx="2647.0" cy="2144" r="18.5" fill="url(#gN)"/>
<circle cx="2310" cy="1589" r="58.5" fill="url(#gM)"/>
<circle cx="2540" cy="1591" r="58.5" fill="url(#gM)"/>
<circle cx="2391.5" cy="1812.5" r="58.5" fill="url(#gM)"/>
<circle cx="2623.5" cy="1815" r="58.5" fill="url(#gM)"/>
<circle cx="2273.5" cy="2064" r="58.5" fill="url(#gM)"/>
<circle cx="2505" cy="2066" r="58.5" fill="url(#gM)"/>
<line x1="2128" y1="1357.5" x2="2593.5" y2="1361" stroke="#0a0a0a" stroke-width="4.5" stroke-linecap="square"/>
<line x1="2186" y1="1315" x2="2650" y2="1319" stroke="#0a0a0a" stroke-width="4.5" stroke-linecap="square"/>
<line x1="2593.5" y1="1361" x2="2650" y2="1319" stroke="#0a0a0a" stroke-width="4.5" stroke-linecap="square"/>
<line x1="2128" y1="1357.5" x2="2186" y2="1315" stroke="#0a0a0a" stroke-width="4.5" stroke-linecap="square"/>
<line x1="2165" y1="2328.5" x2="2627.5" y2="2339" stroke="#0a0a0a" stroke-width="4.5" stroke-linecap="square"/>
<line x1="2223.5" y1="2294" x2="2687.5" y2="2296" stroke="#0a0a0a" stroke-width="4.5" stroke-linecap="square"/>
<line x1="2627.5" y1="2339" x2="2687.5" y2="2296" stroke="#0a0a0a" stroke-width="4.5" stroke-linecap="square"/>
<line x1="2165" y1="2328.5" x2="2223.5" y2="2294" stroke="#0a0a0a" stroke-width="4.5" stroke-linecap="square"/>
<line x1="2128" y1="1357.5" x2="2165" y2="2328.5" stroke="#0a0a0a" stroke-width="4.5" stroke-linecap="square"/>
<line x1="2186" y1="1315" x2="2223.5" y2="2294" stroke="#0a0a0a" stroke-width="4.5" stroke-linecap="square"/>
<line x1="2359" y1="1359" x2="2397.5" y2="2334" stroke="#0a0a0a" stroke-width="4.5" stroke-linecap="square"/>
<line x1="2420" y1="1317" x2="2455" y2="2295" stroke="#0a0a0a" stroke-width="4.5" stroke-linecap="square"/>
<line x1="2593.5" y1="1361" x2="2627.5" y2="2339" stroke="#0a0a0a" stroke-width="4.5" stroke-linecap="square"/>
<line x1="2650" y1="1319" x2="2687.5" y2="2296" stroke="#0a0a0a" stroke-width="4.5" stroke-linecap="square"/>
<circle cx="2173.5" cy="1351.5" r="58.5" fill="url(#gM)"/>
<circle cx="2405" cy="1354" r="58.5" fill="url(#gM)"/>
<circle cx="2210" cy="2328.5" r="58.5" fill="url(#gM)"/>
<circle cx="2441" cy="2330" r="58.5" fill="url(#gM)"/>
<path d="M2736.5,1811.5 L2877.5,1811.5 L2877.5,1767.5 L2992.5,1841.5 L2877.5,1916 L2877.5,1872.5 L2736.5,1872.5 Z" fill="#0a0a0a"/>
<text x="2754.5" y="1732.5" font-size="66" text-anchor="start" >100 GPa</text>
<circle cx="2824" cy="2276" r="24.2" fill="url(#gL)"/>
<circle cx="2824" cy="2354" r="24.4" fill="url(#gNL)"/>
<text x="2872" y="2297.5" font-size="66" text-anchor="start" >Ba</text>
<text x="2872" y="2375" font-size="66" text-anchor="start" >N</text>
<text x="2092" y="2492.5" font-size="66" text-anchor="start" ><tspan font-style="italic">P</tspan>4<tspan font-size="44" dy="14">1</tspan><tspan dy="-14">2</tspan><tspan font-size="44" dy="14">1</tspan><tspan dy="-14">2-BaN</tspan><tspan font-size="44" dy="14">4</tspan><tspan dy="-14">, 0.36 kJ/g</tspan></text>
<line x1="3060" y1="1314" x2="3571.5" y2="1312.5" stroke="#0a0a0a" stroke-width="5" stroke-linecap="square"/>
<line x1="3064" y1="1666.5" x2="3571.5" y2="1666.5" stroke="#0a0a0a" stroke-width="5" stroke-linecap="square"/>
<line x1="3061.7" y1="2368.8" x2="3572.4" y2="2367.7" stroke="#0a0a0a" stroke-width="5" stroke-linecap="square"/>
<line x1="3571.5" y1="1312.5" x2="3572.5" y2="2368" stroke="#0a0a0a" stroke-width="6" stroke-linecap="square"/>
<line x1="3425" y1="1350" x2="3459" y2="1452.5" stroke="#8c8c8c" stroke-width="17.00"/>
<line x1="3425" y1="1350" x2="3459" y2="1452.5" stroke="#b9b9b9" stroke-width="15.30"/>
<line x1="3425" y1="1350" x2="3459" y2="1452.5" stroke="#d2d2d2" stroke-width="13.60"/>
<line x1="3425" y1="1350" x2="3459" y2="1452.5" stroke="#dedede" stroke-width="11.90"/>
<line x1="3425" y1="1350" x2="3459" y2="1452.5" stroke="#eaeaea" stroke-width="10.20"/>
<line x1="3425" y1="1350" x2="3459" y2="1452.5" stroke="#f0f0f0" stroke-width="8.50"/>
<line x1="3425" y1="1350" x2="3459" y2="1452.5" stroke="#f5f5f5" stroke-width="6.80"/>
<line x1="3425" y1="1350" x2="3459" y2="1452.5" stroke="#f9f9f9" stroke-width="5.10"/>
<line x1="3425" y1="1350" x2="3459" y2="1452.5" stroke="#fbfbfb" stroke-width="3.40"/>
<line x1="3459" y1="1452.5" x2="3565" y2="1452.5" stroke="#8c8c8c" stroke-width="17.00"/>
<line x1="3459" y1="1452.5" x2="3565" y2="1452.5" stroke="#b9b9b9" stroke-width="15.30"/>
<line x1="3459" y1="1452.5" x2="3565" y2="1452.5" stroke="#d2d2d2" stroke-width="13.60"/>
<line x1="3459" y1="1452.5" x2="3565" y2="1452.5" stroke="#dedede" stroke-width="11.90"/>
<line x1="3459" y1="1452.5" x2="3565" y2="1452.5" stroke="#eaeaea" stroke-width="10.20"/>
<line x1="3459" y1="1452.5" x2="3565" y2="1452.5" stroke="#f0f0f0" stroke-width="8.50"/>
<line x1="3459" y1="1452.5" x2="3565" y2="1452.5" stroke="#f5f5f5" stroke-width="6.80"/>
<line x1="3459" y1="1452.5" x2="3565" y2="1452.5" stroke="#f9f9f9" stroke-width="5.10"/>
<line x1="3459" y1="1452.5" x2="3565" y2="1452.5" stroke="#fbfbfb" stroke-width="3.40"/>
<circle cx="3425" cy="1350" r="24.5" fill="url(#gN)"/>
<circle cx="3459" cy="1452.5" r="24.5" fill="url(#gN)"/>
<circle cx="3565" cy="1452.5" r="24.5" fill="url(#gN)"/>
<line x1="3169" y1="1527.5" x2="3203.5" y2="1629" stroke="#8c8c8c" stroke-width="17.00"/>
<line x1="3169" y1="1527.5" x2="3203.5" y2="1629" stroke="#b9b9b9" stroke-width="15.30"/>
<line x1="3169" y1="1527.5" x2="3203.5" y2="1629" stroke="#d2d2d2" stroke-width="13.60"/>
<line x1="3169" y1="1527.5" x2="3203.5" y2="1629" stroke="#dedede" stroke-width="11.90"/>
<line x1="3169" y1="1527.5" x2="3203.5" y2="1629" stroke="#eaeaea" stroke-width="10.20"/>
<line x1="3169" y1="1527.5" x2="3203.5" y2="1629" stroke="#f0f0f0" stroke-width="8.50"/>
<line x1="3169" y1="1527.5" x2="3203.5" y2="1629" stroke="#f5f5f5" stroke-width="6.80"/>
<line x1="3169" y1="1527.5" x2="3203.5" y2="1629" stroke="#f9f9f9" stroke-width="5.10"/>
<line x1="3169" y1="1527.5" x2="3203.5" y2="1629" stroke="#fbfbfb" stroke-width="3.40"/>
<circle cx="3169" cy="1527.5" r="24.5" fill="url(#gN)"/>
<circle cx="3258.5" cy="1490" r="77" fill="url(#gM)"/>
<circle cx="3512.5" cy="1665" r="77" fill="url(#gM)"/>
<circle cx="3255" cy="1842.5" r="77" fill="url(#gMg)"/>
<circle cx="3376.5" cy="1840" r="77" fill="url(#gM)"/>
<circle cx="3120" cy="2016" r="77" fill="url(#gM)"/>
<circle cx="3373.7" cy="2193.6" r="77" fill="url(#gM)"/>
<line x1="3203.5" y1="1629" x2="3309" y2="1628.5" stroke="#8c8c8c" stroke-width="17.00"/>
<line x1="3203.5" y1="1629" x2="3309" y2="1628.5" stroke="#b9b9b9" stroke-width="15.30"/>
<line x1="3203.5" y1="1629" x2="3309" y2="1628.5" stroke="#d2d2d2" stroke-width="13.60"/>
<line x1="3203.5" y1="1629" x2="3309" y2="1628.5" stroke="#dedede" stroke-width="11.90"/>
<line x1="3203.5" y1="1629" x2="3309" y2="1628.5" stroke="#eaeaea" stroke-width="10.20"/>
<line x1="3203.5" y1="1629" x2="3309" y2="1628.5" stroke="#f0f0f0" stroke-width="8.50"/>
<line x1="3203.5" y1="1629" x2="3309" y2="1628.5" stroke="#f5f5f5" stroke-width="6.80"/>
<line x1="3203.5" y1="1629" x2="3309" y2="1628.5" stroke="#f9f9f9" stroke-width="5.10"/>
<line x1="3203.5" y1="1629" x2="3309" y2="1628.5" stroke="#fbfbfb" stroke-width="3.40"/>
<line x1="3309" y1="1628.5" x2="3310" y2="1701.5" stroke="#6e6e6e" stroke-width="17.00"/>
<line x1="3309" y1="1628.5" x2="3310" y2="1701.5" stroke="#808080" stroke-width="11.90"/>
<line x1="3309" y1="1628.5" x2="3310" y2="1701.5" stroke="#949494" stroke-width="5.95"/>
<line x1="3310" y1="1701.5" x2="3205" y2="1701.5" stroke="#8c8c8c" stroke-width="17.00"/>
<line x1="3310" y1="1701.5" x2="3205" y2="1701.5" stroke="#b9b9b9" stroke-width="15.30"/>
<line x1="3310" y1="1701.5" x2="3205" y2="1701.5" stroke="#d2d2d2" stroke-width="13.60"/>
<line x1="3310" y1="1701.5" x2="3205" y2="1701.5" stroke="#dedede" stroke-width="11.90"/>
<line x1="3310" y1="1701.5" x2="3205" y2="1701.5" stroke="#eaeaea" stroke-width="10.20"/>
<line x1="3310" y1="1701.5" x2="3205" y2="1701.5" stroke="#f0f0f0" stroke-width="8.50"/>
<line x1="3310" y1="1701.5" x2="3205" y2="1701.5" stroke="#f5f5f5" stroke-width="6.80"/>
<line x1="3310" y1="1701.5" x2="3205" y2="1701.5" stroke="#f9f9f9" stroke-width="5.10"/>
<line x1="3310" y1="1701.5" x2="3205" y2="1701.5" stroke="#fbfbfb" stroke-width="3.40"/>
<line x1="3205" y1="1701.5" x2="3172.5" y2="1804" stroke="#8c8c8c" stroke-width="17.00"/>
<line x1="3205" y1="1701.5" x2="3172.5" y2="1804" stroke="#b9b9b9" stroke-width="15.30"/>
<line x1="3205" y1="1701.5" x2="3172.5" y2="1804" stroke="#d2d2d2" stroke-width="13.60"/>
<line x1="3205" y1="1701.5" x2="3172.5" y2="1804" stroke="#dedede" stroke-width="11.90"/>
<line x1="3205" y1="1701.5" x2="3172.5" y2="1804" stroke="#eaeaea" stroke-width="10.20"/>
<line x1="3205" y1="1701.5" x2="3172.5" y2="1804" stroke="#f0f0f0" stroke-width="8.50"/>
<line x1="3205" y1="1701.5" x2="3172.5" y2="1804" stroke="#f5f5f5" stroke-width="6.80"/>
<line x1="3205" y1="1701.5" x2="3172.5" y2="1804" stroke="#f9f9f9" stroke-width="5.10"/>
<line x1="3205" y1="1701.5" x2="3172.5" y2="1804" stroke="#fbfbfb" stroke-width="3.40"/>
<line x1="3172.5" y1="1804" x2="3067.5" y2="1802.5" stroke="#8c8c8c" stroke-width="17.00"/>
<line x1="3172.5" y1="1804" x2="3067.5" y2="1802.5" stroke="#b9b9b9" stroke-width="15.30"/>
<line x1="3172.5" y1="1804" x2="3067.5" y2="1802.5" stroke="#d2d2d2" stroke-width="13.60"/>
<line x1="3172.5" y1="1804" x2="3067.5" y2="1802.5" stroke="#dedede" stroke-width="11.90"/>
<line x1="3172.5" y1="1804" x2="3067.5" y2="1802.5" stroke="#eaeaea" stroke-width="10.20"/>
<line x1="3172.5" y1="1804" x2="3067.5" y2="1802.5" stroke="#f0f0f0" stroke-width="8.50"/>
<line x1="3172.5" y1="1804" x2="3067.5" y2="1802.5" stroke="#f5f5f5" stroke-width="6.80"/>
<line x1="3172.5" y1="1804" x2="3067.5" y2="1802.5" stroke="#f9f9f9" stroke-width="5.10"/>
<line x1="3172.5" y1="1804" x2="3067.5" y2="1802.5" stroke="#fbfbfb" stroke-width="3.40"/>
<line x1="3067.5" y1="1802.5" x2="3069" y2="1877.5" stroke="#6e6e6e" stroke-width="17.00"/>
<line x1="3067.5" y1="1802.5" x2="3069" y2="1877.5" stroke="#808080" stroke-width="11.90"/>
<line x1="3067.5" y1="1802.5" x2="3069" y2="1877.5" stroke="#949494" stroke-width="5.95"/>
<line x1="3562.5" y1="1805" x2="3564" y2="1879" stroke="#6e6e6e" stroke-width="17.00"/>
<line x1="3562.5" y1="1805" x2="3564" y2="1879" stroke="#808080" stroke-width="11.90"/>
<line x1="3562.5" y1="1805" x2="3564" y2="1879" stroke="#949494" stroke-width="5.95"/>
<line x1="3564" y1="1879" x2="3460" y2="1877.5" stroke="#8c8c8c" stroke-width="17.00"/>
<line x1="3564" y1="1879" x2="3460" y2="1877.5" stroke="#b9b9b9" stroke-width="15.30"/>
<line x1="3564" y1="1879" x2="3460" y2="1877.5" stroke="#d2d2d2" stroke-width="13.60"/>
<line x1="3564" y1="1879" x2="3460" y2="1877.5" stroke="#dedede" stroke-width="11.90"/>
<line x1="3564" y1="1879" x2="3460" y2="1877.5" stroke="#eaeaea" stroke-width="10.20"/>
<line x1="3564" y1="1879" x2="3460" y2="1877.5" stroke="#f0f0f0" stroke-width="8.50"/>
<line x1="3564" y1="1879" x2="3460" y2="1877.5" stroke="#f5f5f5" stroke-width="6.80"/>
<line x1="3564" y1="1879" x2="3460" y2="1877.5" stroke="#f9f9f9" stroke-width="5.10"/>
<line x1="3564" y1="1879" x2="3460" y2="1877.5" stroke="#fbfbfb" stroke-width="3.40"/>
<line x1="3460" y1="1877.5" x2="3425" y2="1980" stroke="#8c8c8c" stroke-width="17.00"/>
<line x1="3460" y1="1877.5" x2="3425" y2="1980" stroke="#b9b9b9" stroke-width="15.30"/>
<line x1="3460" y1="1877.5" x2="3425" y2="1980" stroke="#d2d2d2" stroke-width="13.60"/>
<line x1="3460" y1="1877.5" x2="3425" y2="1980" stroke="#dedede" stroke-width="11.90"/>
<line x1="3460" y1="1877.5" x2="3425" y2="1980" stroke="#eaeaea" stroke-width="10.20"/>
<line x1="3460" y1="1877.5" x2="3425" y2="1980" stroke="#f0f0f0" stroke-width="8.50"/>
<line x1="3460" y1="1877.5" x2="3425" y2="1980" stroke="#f5f5f5" stroke-width="6.80"/>
<line x1="3460" y1="1877.5" x2="3425" y2="1980" stroke="#f9f9f9" stroke-width="5.10"/>
<line x1="3460" y1="1877.5" x2="3425" y2="1980" stroke="#fbfbfb" stroke-width="3.40"/>
<line x1="3425" y1="1980" x2="3321.5" y2="1978.5" stroke="#8c8c8c" stroke-width="17.00"/>
<line x1="3425" y1="1980" x2="3321.5" y2="1978.5" stroke="#b9b9b9" stroke-width="15.30"/>
<line x1="3425" y1="1980" x2="3321.5" y2="1978.5" stroke="#d2d2d2" stroke-width="13.60"/>
<line x1="3425" y1="1980" x2="3321.5" y2="1978.5" stroke="#dedede" stroke-width="11.90"/>
<line x1="3425" y1="1980" x2="3321.5" y2="1978.5" stroke="#eaeaea" stroke-width="10.20"/>
<line x1="3425" y1="1980" x2="3321.5" y2="1978.5" stroke="#f0f0f0" stroke-width="8.50"/>
<line x1="3425" y1="1980" x2="3321.5" y2="1978.5" stroke="#f5f5f5" stroke-width="6.80"/>
<line x1="3425" y1="1980" x2="3321.5" y2="1978.5" stroke="#f9f9f9" stroke-width="5.10"/>
<line x1="3425" y1="1980" x2="3321.5" y2="1978.5" stroke="#fbfbfb" stroke-width="3.40"/>
<line x1="3321.5" y1="1978.5" x2="3323.5" y2="2052" stroke="#6e6e6e" stroke-width="17.00"/>
<line x1="3321.5" y1="1978.5" x2="3323.5" y2="2052" stroke="#808080" stroke-width="11.90"/>
<line x1="3321.5" y1="1978.5" x2="3323.5" y2="2052" stroke="#949494" stroke-width="5.95"/>
<line x1="3321.5" y1="1979.4" x2="3427.1" y2="1980.2" stroke="#8c8c8c" stroke-width="17.00"/>
<line x1="3321.5" y1="1979.4" x2="3427.1" y2="1980.2" stroke="#b9b9b9" stroke-width="15.30"/>
<line x1="3321.5" y1="1979.4" x2="3427.1" y2="1980.2" stroke="#d2d2d2" stroke-width="13.60"/>
<line x1="3321.5" y1="1979.4" x2="3427.1" y2="1980.2" stroke="#dedede" stroke-width="11.90"/>
<line x1="3321.5" y1="1979.4" x2="3427.1" y2="1980.2" stroke="#eaeaea" stroke-width="10.20"/>
<line x1="3321.5" y1="1979.4" x2="3427.1" y2="1980.2" stroke="#f0f0f0" stroke-width="8.50"/>
<line x1="3321.5" y1="1979.4" x2="3427.1" y2="1980.2" stroke="#f5f5f5" stroke-width="6.80"/>
<line x1="3321.5" y1="1979.4" x2="3427.1" y2="1980.2" stroke="#f9f9f9" stroke-width="5.10"/>
<line x1="3321.5" y1="1979.4" x2="3427.1" y2="1980.2" stroke="#fbfbfb" stroke-width="3.40"/>
<line x1="3322.2" y1="2053" x2="3428.9" y2="2052.3" stroke="#8c8c8c" stroke-width="17.00"/>
<line x1="3322.2" y1="2053" x2="3428.9" y2="2052.3" stroke="#b9b9b9" stroke-width="15.30"/>
<line x1="3322.2" y1="2053" x2="3428.9" y2="2052.3" stroke="#d2d2d2" stroke-width="13.60"/>
<line x1="3322.2" y1="2053" x2="3428.9" y2="2052.3" stroke="#dedede" stroke-width="11.90"/>
<line x1="3322.2" y1="2053" x2="3428.9" y2="2052.3" stroke="#eaeaea" stroke-width="10.20"/>
<line x1="3322.2" y1="2053" x2="3428.9" y2="2052.3" stroke="#f0f0f0" stroke-width="8.50"/>
<line x1="3322.2" y1="2053" x2="3428.9" y2="2052.3" stroke="#f5f5f5" stroke-width="6.80"/>
<line x1="3322.2" y1="2053" x2="3428.9" y2="2052.3" stroke="#f9f9f9" stroke-width="5.10"/>
<line x1="3322.2" y1="2053" x2="3428.9" y2="2052.3" stroke="#fbfbfb" stroke-width="3.40"/>
<line x1="3428.9" y1="2052.3" x2="3463.9" y2="2154.2" stroke="#8c8c8c" stroke-width="17.00"/>
<line x1="3428.9" y1="2052.3" x2="3463.9" y2="2154.2" stroke="#b9b9b9" stroke-width="15.30"/>
<line x1="3428.9" y1="2052.3" x2="3463.9" y2="2154.2" stroke="#d2d2d2" stroke-width="13.60"/>
<line x1="3428.9" y1="2052.3" x2="3463.9" y2="2154.2" stroke="#dedede" stroke-width="11.90"/>
<line x1="3428.9" y1="2052.3" x2="3463.9" y2="2154.2" stroke="#eaeaea" stroke-width="10.20"/>
<line x1="3428.9" y1="2052.3" x2="3463.9" y2="2154.2" stroke="#f0f0f0" stroke-width="8.50"/>
<line x1="3428.9" y1="2052.3" x2="3463.9" y2="2154.2" stroke="#f5f5f5" stroke-width="6.80"/>
<line x1="3428.9" y1="2052.3" x2="3463.9" y2="2154.2" stroke="#f9f9f9" stroke-width="5.10"/>
<line x1="3428.9" y1="2052.3" x2="3463.9" y2="2154.2" stroke="#fbfbfb" stroke-width="3.40"/>
<line x1="3065.4" y1="2230.4" x2="3172.1" y2="2228.9" stroke="#8c8c8c" stroke-width="17.00"/>
<line x1="3065.4" y1="2230.4" x2="3172.1" y2="2228.9" stroke="#b9b9b9" stroke-width="15.30"/>
<line x1="3065.4" y1="2230.4" x2="3172.1" y2="2228.9" stroke="#d2d2d2" stroke-width="13.60"/>
<line x1="3065.4" y1="2230.4" x2="3172.1" y2="2228.9" stroke="#dedede" stroke-width="11.90"/>
<line x1="3065.4" y1="2230.4" x2="3172.1" y2="2228.9" stroke="#eaeaea" stroke-width="10.20"/>
<line x1="3065.4" y1="2230.4" x2="3172.1" y2="2228.9" stroke="#f0f0f0" stroke-width="8.50"/>
<line x1="3065.4" y1="2230.4" x2="3172.1" y2="2228.9" stroke="#f5f5f5" stroke-width="6.80"/>
<line x1="3065.4" y1="2230.4" x2="3172.1" y2="2228.9" stroke="#f9f9f9" stroke-width="5.10"/>
<line x1="3065.4" y1="2230.4" x2="3172.1" y2="2228.9" stroke="#fbfbfb" stroke-width="3.40"/>
<line x1="3172.1" y1="2228.9" x2="3206.3" y2="2330.9" stroke="#8c8c8c" stroke-width="17.00"/>
<line x1="3172.1" y1="2228.9" x2="3206.3" y2="2330.9" stroke="#b9b9b9" stroke-width="15.30"/>
<line x1="3172.1" y1="2228.9" x2="3206.3" y2="2330.9" stroke="#d2d2d2" stroke-width="13.60"/>
<line x1="3172.1" y1="2228.9" x2="3206.3" y2="2330.9" stroke="#dedede" stroke-width="11.90"/>
<line x1="3172.1" y1="2228.9" x2="3206.3" y2="2330.9" stroke="#eaeaea" stroke-width="10.20"/>
<line x1="3172.1" y1="2228.9" x2="3206.3" y2="2330.9" stroke="#f0f0f0" stroke-width="8.50"/>
<line x1="3172.1" y1="2228.9" x2="3206.3" y2="2330.9" stroke="#f5f5f5" stroke-width="6.80"/>
<line x1="3172.1" y1="2228.9" x2="3206.3" y2="2330.9" stroke="#f9f9f9" stroke-width="5.10"/>
<line x1="3172.1" y1="2228.9" x2="3206.3" y2="2330.9" stroke="#fbfbfb" stroke-width="3.40"/>
<circle cx="3203.5" cy="1629" r="24.5" fill="url(#gN)"/>
<circle cx="3309" cy="1628.5" r="24.5" fill="url(#gN)"/>
<circle cx="3310" cy="1701.5" r="24.5" fill="url(#gN)"/>
<circle cx="3205" cy="1701.5" r="24.5" fill="url(#gN)"/>
<circle cx="3172.5" cy="1804" r="24.5" fill="url(#gN)"/>
<circle cx="3067.5" cy="1802.5" r="24.5" fill="url(#gN)"/>
<circle cx="3069" cy="1877.5" r="24.5" fill="url(#gN)"/>
<circle cx="3562.5" cy="1805" r="24.5" fill="url(#gN)"/>
<circle cx="3564" cy="1879" r="24.5" fill="url(#gN)"/>
<circle cx="3460" cy="1877.5" r="24.5" fill="url(#gN)"/>
<circle cx="3425" cy="1980" r="24.5" fill="url(#gN)"/>
<circle cx="3321.5" cy="1978.5" r="24.5" fill="url(#gN)"/>
<circle cx="3427.1" cy="1980.2" r="24.5" fill="url(#gN)"/>
<circle cx="3322.2" cy="2053" r="24.5" fill="url(#gN)"/>
<circle cx="3428.9" cy="2052.3" r="24.5" fill="url(#gN)"/>
<circle cx="3065.4" cy="2230.4" r="24.5" fill="url(#gN)"/>
<circle cx="3172.1" cy="2228.9" r="24.5" fill="url(#gN)"/>
<circle cx="3206.3" cy="2330.9" r="24.5" fill="url(#gN)"/>
<circle cx="3463.9" cy="2154.2" r="24.5" fill="url(#gN)"/>
<line x1="3060" y1="1314" x2="3061.7" y2="2368.8" stroke="#0a0a0a" stroke-width="5" stroke-linecap="square"/>
<line x1="3064" y1="2015.5" x2="3571.5" y2="2015.5" stroke="#0a0a0a" stroke-width="5" stroke-linecap="square"/>
<line x1="3571.5" y1="1312.5" x2="3572.5" y2="2368" stroke="#0a0a0a" stroke-width="6" stroke-linecap="square"/>
<text x="3034" y="2492.8" font-size="66" text-anchor="start" >BaN<tspan font-size="44" dy="14">4</tspan><tspan dy="-14">-</tspan><tspan font-style="italic">C</tspan>2/<tspan font-style="italic">c</tspan>, 0.38 kJ/g</text>
</svg></body></html>
